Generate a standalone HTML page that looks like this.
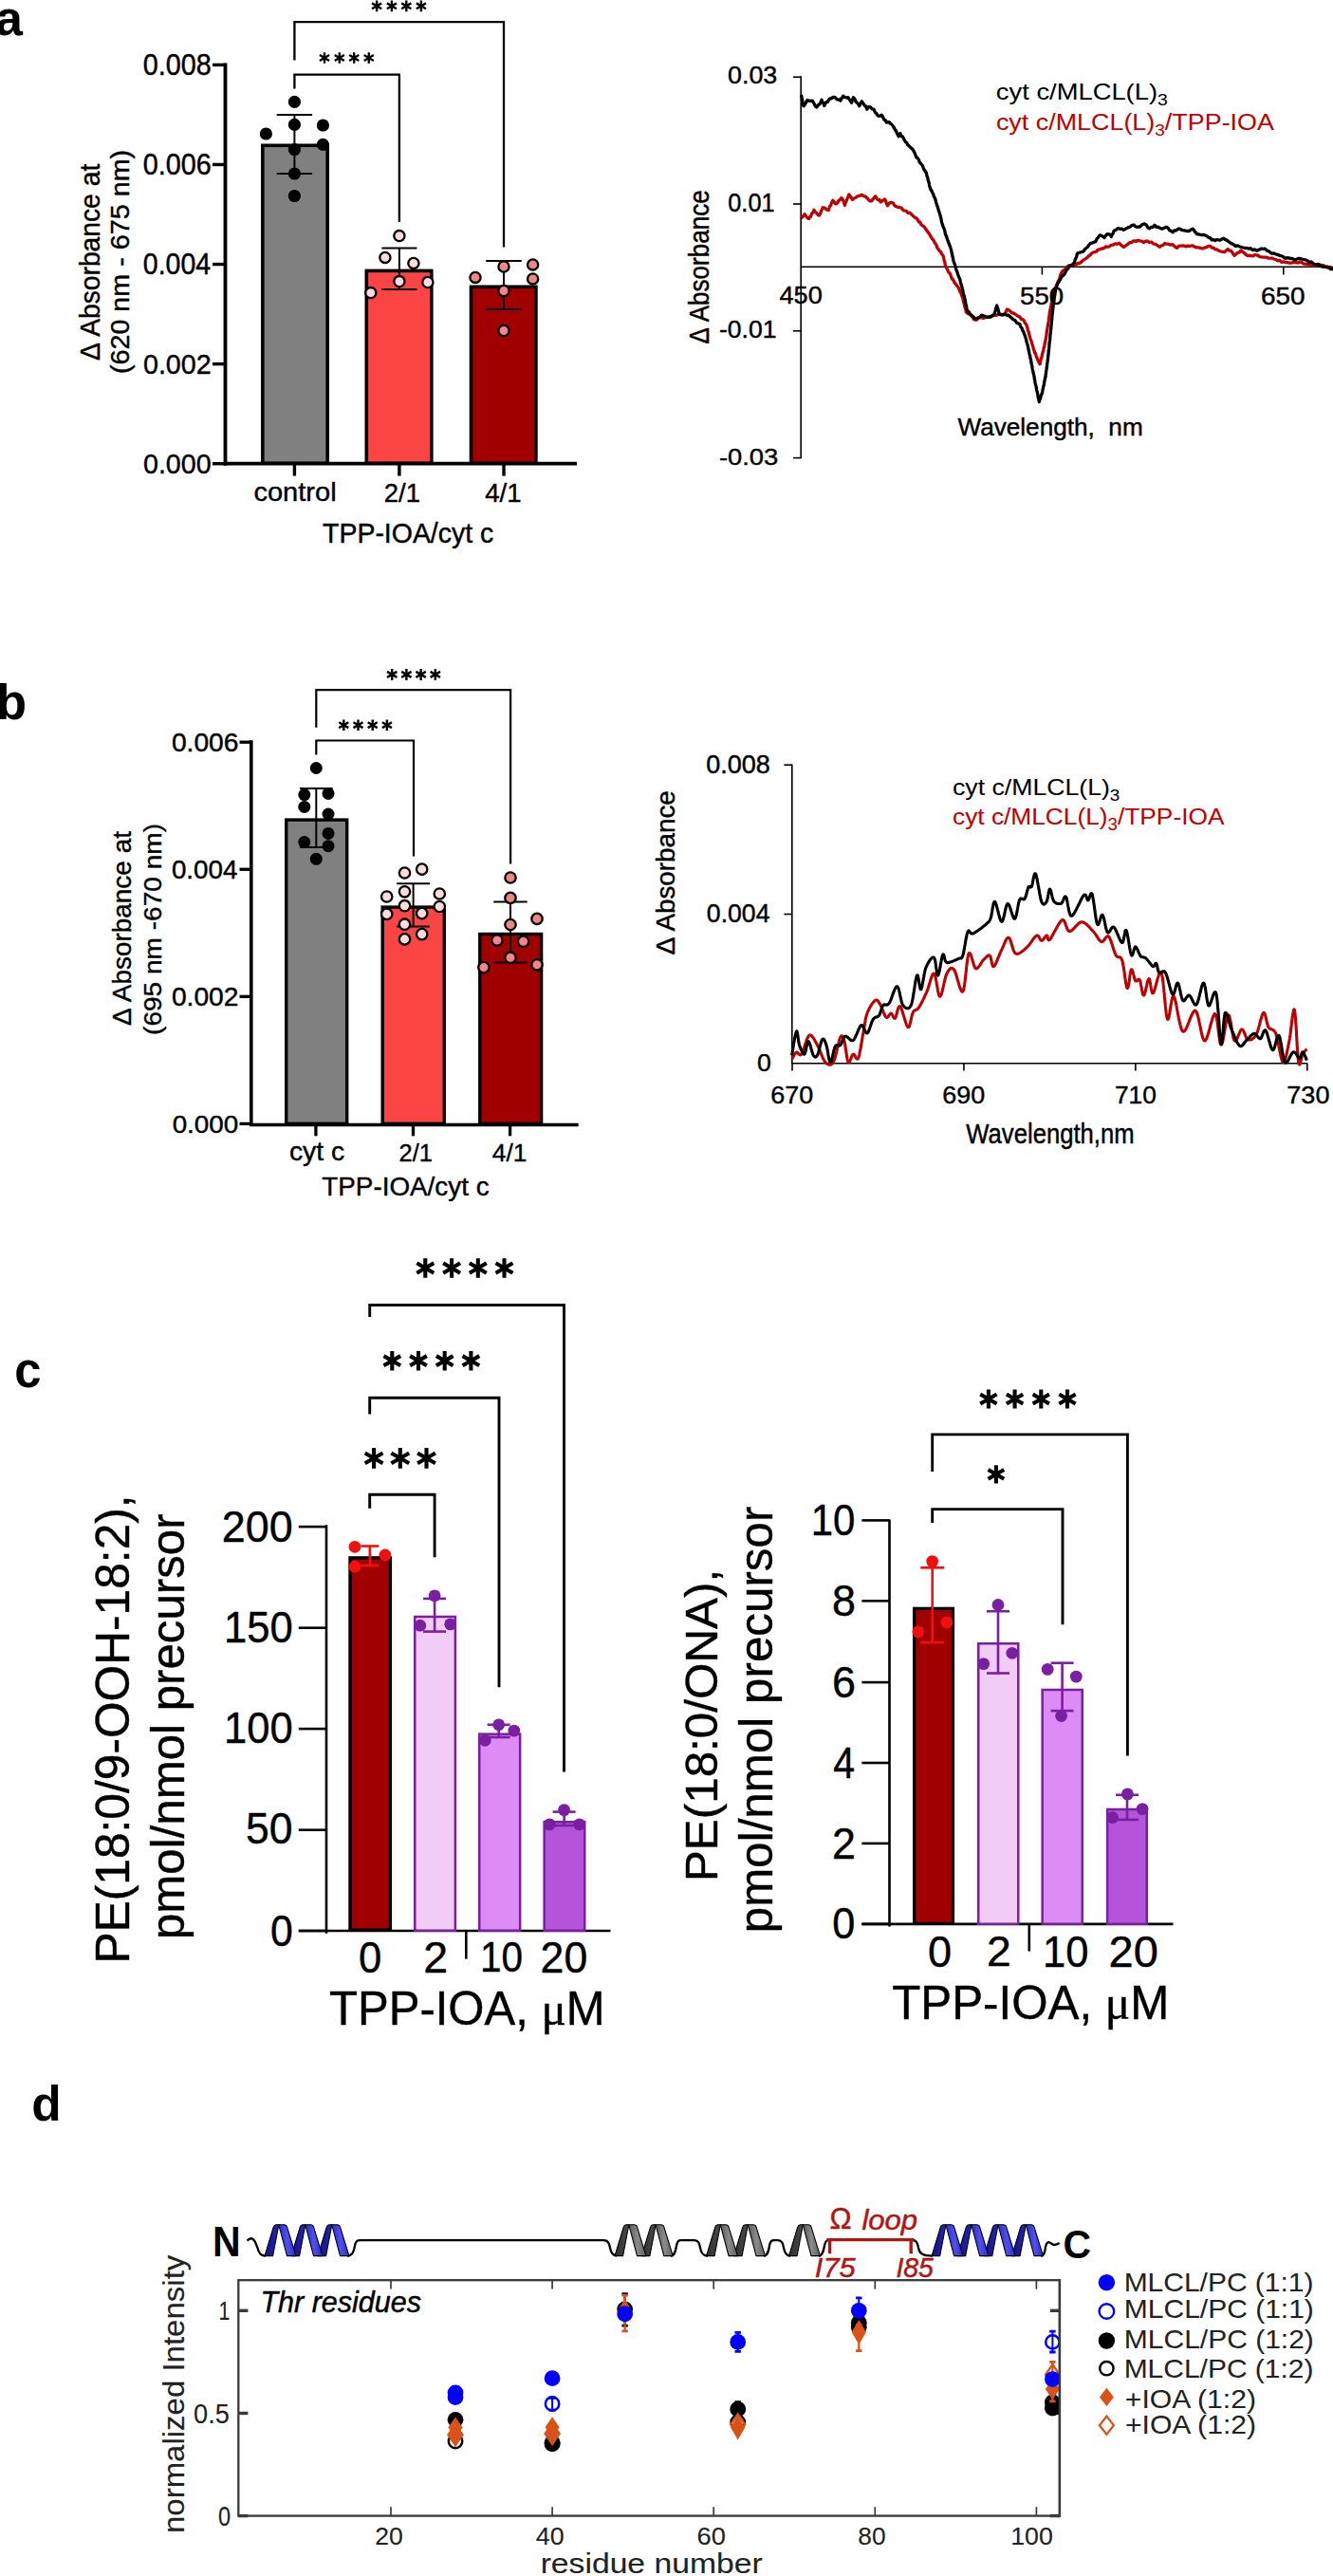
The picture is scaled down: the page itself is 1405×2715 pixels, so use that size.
<!DOCTYPE html><html><head><meta charset="utf-8"><style>html,body{margin:0;padding:0;background:#fff;}svg{display:block}text{font-family:"Liberation Sans",sans-serif}</style></head><body><svg width="1405" height="2715" viewBox="0 0 1405 2715"><rect width="100%" height="100%" fill="#fff"/>
<line x1="237.5" y1="66.5" x2="237.5" y2="490.5" stroke="#000" stroke-width="3.8" stroke-linecap="butt"/>
<line x1="224" y1="68.39999999999998" x2="237.5" y2="68.39999999999998" stroke="#000" stroke-width="3.4" stroke-linecap="butt"/>
<line x1="224" y1="173.47499999999997" x2="237.5" y2="173.47499999999997" stroke="#000" stroke-width="3.4" stroke-linecap="butt"/>
<line x1="224" y1="278.54999999999995" x2="237.5" y2="278.54999999999995" stroke="#000" stroke-width="3.4" stroke-linecap="butt"/>
<line x1="224" y1="383.625" x2="237.5" y2="383.625" stroke="#000" stroke-width="3.4" stroke-linecap="butt"/>
<line x1="224" y1="488.7" x2="237.5" y2="488.7" stroke="#000" stroke-width="3.4" stroke-linecap="butt"/>
<line x1="235.6" y1="488.7" x2="608" y2="488.7" stroke="#000" stroke-width="3.8" stroke-linecap="butt"/>
<line x1="310.4" y1="488.7" x2="310.4" y2="501.6" stroke="#000" stroke-width="3.4" stroke-linecap="butt"/>
<line x1="420.9" y1="488.7" x2="420.9" y2="501.6" stroke="#000" stroke-width="3.4" stroke-linecap="butt"/>
<line x1="531" y1="488.7" x2="531" y2="501.6" stroke="#000" stroke-width="3.4" stroke-linecap="butt"/>
<rect x="276.8" y="153.3" width="68.4" height="334.9" fill="#808080" stroke="#000" stroke-width="3.6"/>
<rect x="386.3" y="285.40000000000003" width="68.50000000000003" height="202.79999999999998" fill="#fb4444" stroke="#000" stroke-width="3.6"/>
<rect x="496.5" y="302.3" width="68.40000000000006" height="185.9" fill="#a10000" stroke="#000" stroke-width="3.6"/>
<line x1="310.4" y1="121" x2="310.4" y2="183" stroke="#000" stroke-width="2" stroke-linecap="butt"/>
<line x1="291.7" y1="121" x2="329.09999999999997" y2="121" stroke="#000" stroke-width="2" stroke-linecap="butt"/>
<line x1="291.7" y1="183" x2="329.09999999999997" y2="183" stroke="#000" stroke-width="2" stroke-linecap="butt"/>
<circle cx="310.4" cy="107.4" r="6.6" fill="#000" stroke="none" stroke-width="0"/>
<circle cx="310.4" cy="131.4" r="6.6" fill="#000" stroke="none" stroke-width="0"/>
<circle cx="280.4" cy="141" r="6.6" fill="#000" stroke="none" stroke-width="0"/>
<circle cx="340.4" cy="132" r="6.6" fill="#000" stroke="none" stroke-width="0"/>
<circle cx="340.4" cy="152.4" r="6.6" fill="#000" stroke="none" stroke-width="0"/>
<circle cx="310.4" cy="157.5" r="6.6" fill="#000" stroke="none" stroke-width="0"/>
<circle cx="310.4" cy="183" r="6.6" fill="#000" stroke="none" stroke-width="0"/>
<circle cx="310.4" cy="206.5" r="6.6" fill="#000" stroke="none" stroke-width="0"/>
<line x1="420.9" y1="261.5" x2="420.9" y2="305" stroke="#000" stroke-width="2" stroke-linecap="butt"/>
<line x1="402.4" y1="261.5" x2="439.4" y2="261.5" stroke="#000" stroke-width="2" stroke-linecap="butt"/>
<line x1="402.4" y1="305" x2="439.4" y2="305" stroke="#000" stroke-width="2" stroke-linecap="butt"/>
<circle cx="420.9" cy="248.6" r="5.6" fill="#fadcdc" stroke="#000" stroke-width="2.3"/>
<circle cx="405.9" cy="271.4" r="5.6" fill="#fadcdc" stroke="#000" stroke-width="2.3"/>
<circle cx="435.9" cy="277.4" r="5.6" fill="#fadcdc" stroke="#000" stroke-width="2.3"/>
<circle cx="420.9" cy="296.6" r="5.6" fill="#fadcdc" stroke="#000" stroke-width="2.3"/>
<circle cx="450.9" cy="297.5" r="5.6" fill="#fadcdc" stroke="#000" stroke-width="2.3"/>
<circle cx="390.8" cy="308.6" r="5.6" fill="#fadcdc" stroke="#000" stroke-width="2.3"/>
<line x1="531" y1="275" x2="531" y2="326" stroke="#000" stroke-width="2" stroke-linecap="butt"/>
<line x1="512.2" y1="275" x2="549.8" y2="275" stroke="#000" stroke-width="2" stroke-linecap="butt"/>
<line x1="512.2" y1="326" x2="549.8" y2="326" stroke="#000" stroke-width="2" stroke-linecap="butt"/>
<circle cx="531" cy="281" r="5.6" fill="#f28585" stroke="#000" stroke-width="2.3"/>
<circle cx="561.6" cy="278.9" r="5.6" fill="#f28585" stroke="#000" stroke-width="2.3"/>
<circle cx="501" cy="292.4" r="5.6" fill="#f28585" stroke="#000" stroke-width="2.3"/>
<circle cx="561.6" cy="293.9" r="5.6" fill="#f28585" stroke="#000" stroke-width="2.3"/>
<circle cx="531" cy="306.5" r="5.6" fill="#f28585" stroke="#000" stroke-width="2.3"/>
<circle cx="531" cy="348.5" r="5.6" fill="#f28585" stroke="#000" stroke-width="2.3"/>
<path d="M310.4,63.6 V23.1 H531 V260.5" stroke="#000" stroke-width="2.3" fill="none" />
<path d="M310.4,93.6 V78.6 H420.9 V234" stroke="#000" stroke-width="2.3" fill="none" />
<path d="M342,55.15 V66.85 M336.93375138786104,58.075 L347.06624861213896,63.925 M336.93375138786104,63.925 L347.06624861213896,58.075" stroke="#000" stroke-width="2.4" fill="none"/>
<path d="M357.8,55.15 V66.85 M352.73375138786105,58.075 L362.866248612139,63.925 M352.73375138786105,63.925 L362.866248612139,58.075" stroke="#000" stroke-width="2.4" fill="none"/>
<path d="M373.2,55.15 V66.85 M368.133751387861,58.075 L378.26624861213895,63.925 M368.133751387861,63.925 L378.26624861213895,58.075" stroke="#000" stroke-width="2.4" fill="none"/>
<path d="M388.8,55.15 V66.85 M383.73375138786105,58.075 L393.866248612139,63.925 M383.73375138786105,63.925 L393.866248612139,58.075" stroke="#000" stroke-width="2.4" fill="none"/>
<path d="M397.1,0.4500000000000002 V12.149999999999999 M392.03375138786106,3.3750000000000004 L402.166248612139,9.225 M392.03375138786106,9.225 L402.166248612139,3.3750000000000004" stroke="#000" stroke-width="2.4" fill="none"/>
<path d="M412.9,0.4500000000000002 V12.149999999999999 M407.833751387861,3.3750000000000004 L417.96624861213894,9.225 M407.833751387861,9.225 L417.96624861213894,3.3750000000000004" stroke="#000" stroke-width="2.4" fill="none"/>
<path d="M428.3,0.4500000000000002 V12.149999999999999 M423.23375138786105,3.3750000000000004 L433.366248612139,9.225 M423.23375138786105,9.225 L433.366248612139,3.3750000000000004" stroke="#000" stroke-width="2.4" fill="none"/>
<path d="M443.9,0.4500000000000002 V12.149999999999999 M438.833751387861,3.3750000000000004 L448.96624861213894,9.225 M438.833751387861,9.225 L448.96624861213894,3.3750000000000004" stroke="#000" stroke-width="2.4" fill="none"/>
<line x1="844.2" y1="80.2" x2="844.2" y2="483.2" stroke="#000" stroke-width="1.6" stroke-linecap="butt"/>
<line x1="836" y1="81.19999999999996" x2="844.2" y2="81.19999999999996" stroke="#000" stroke-width="1.6" stroke-linecap="butt"/>
<line x1="836" y1="214.99999999999997" x2="844.2" y2="214.99999999999997" stroke="#000" stroke-width="1.6" stroke-linecap="butt"/>
<line x1="836" y1="348.79999999999995" x2="844.2" y2="348.79999999999995" stroke="#000" stroke-width="1.6" stroke-linecap="butt"/>
<line x1="836" y1="482.6" x2="844.2" y2="482.6" stroke="#000" stroke-width="1.6" stroke-linecap="butt"/>
<line x1="844.2" y1="281.2" x2="1405" y2="281.2" stroke="#000" stroke-width="1.6" stroke-linecap="butt"/>
<line x1="1098.4" y1="281.2" x2="1098.4" y2="289.5" stroke="#000" stroke-width="1.6" stroke-linecap="butt"/>
<line x1="1352.8" y1="281.2" x2="1352.8" y2="289.5" stroke="#000" stroke-width="1.6" stroke-linecap="butt"/>
<path d="M844.5,230.4 L845.7,228.4 L846.9,227.5 L848.1,225.7 L849.6,227.9 L851.1,229.7 L852.6,230.5 L853.5,228.8 L854.4,228.6 L855.3,225.9 L856.2,224.2 L857.1,223.9 L858.0,221.3 L859.4,223.6 L860.7,224.5 L862.0,226.4 L863.4,227.1 L864.1,226.1 L864.8,224.8 L865.6,222.3 L866.3,220.9 L867.0,219.0 L869.1,218.8 L871.2,221.0 L873.3,221.6 L874.0,219.2 L874.8,217.0 L875.5,216.7 L876.3,214.2 L877.0,212.8 L877.8,211.3 L879.0,212.5 L880.2,214.4 L881.4,214.9 L882.8,213.8 L884.1,211.4 L885.4,210.5 L886.8,208.6 L887.7,209.1 L888.6,211.1 L889.5,213.2 L890.4,216.4 L891.1,213.8 L891.9,212.4 L892.6,210.0 L893.4,208.7 L894.1,206.7 L894.9,204.9 L896.1,206.9 L897.3,208.4 L898.5,210.4 L900.1,209.0 L901.6,208.5 L903.2,207.3 L904.8,206.6 L906.6,206.1 L908.4,205.3 L910.2,206.6 L912.0,206.9 L913.4,208.4 L914.7,209.4 L916.0,211.2 L917.4,211.9 L918.8,211.8 L920.1,210.1 L921.4,208.3 L922.8,206.7 L924.1,209.4 L925.5,210.8 L926.9,210.4 L928.2,212.9 L930.5,211.3 L932.7,210.0 L933.6,212.0 L934.5,214.7 L935.4,216.7 L937.6,213.8 L939.9,213.5 L941.4,214.0 L942.9,216.7 L944.4,217.5 L946.6,218.5 L948.9,218.7 L950.4,219.3 L951.9,221.7 L953.4,222.0 L955.2,222.4 L957.0,224.3 L958.8,224.2 L960.6,225.8 L962.5,227.6 L964.3,229.3 L965.6,229.8 L967.0,231.0 L968.3,233.8 L969.7,234.2 L971.0,236.7 L972.4,237.9 L973.8,238.7 L975.1,240.5 L976.4,242.3 L977.8,244.3 L978.9,245.8 L980.0,247.3 L981.0,249.1 L982.1,251.3 L983.2,252.1 L984.2,253.7 L985.1,256.0 L986.1,256.8 L987.1,258.7 L988.1,261.6 L989.0,262.5 L990.0,264.3 L991.3,265.1 L992.7,267.6 L994.0,269.7 L994.5,270.5 L994.9,273.4 L995.4,275.2 L995.8,276.0 L996.2,278.8 L996.7,280.3 L997.5,282.3 L998.3,283.4 L999.2,285.6 L1000.0,287.3 L1000.8,287.6 L1001.7,289.3 L1002.6,292.0 L1003.5,294.1 L1004.4,294.4 L1005.3,296.3 L1006.2,298.2 L1007.5,299.5 L1008.9,301.4 L1010.2,303.1 L1011.0,305.0 L1011.8,307.3 L1012.7,308.7 L1013.5,310.7 L1014.3,313.3 L1014.7,313.7 L1015.2,316.5 L1015.6,318.6 L1016.1,319.7 L1016.5,321.3 L1017.0,324.1 L1017.4,324.9 L1017.9,326.6 L1018.3,328.9 L1020.1,330.7 L1021.9,331.0 L1023.7,332.8 L1025.1,334.1 L1026.4,336.4 L1027.8,337.0 L1029.5,337.1 L1031.2,335.2 L1032.8,334.8 L1034.5,334.7 L1036.5,335.3 L1038.5,334.7 L1040.6,334.4 L1042.6,334.4 L1044.4,334.0 L1046.2,332.3 L1048.0,332.3 L1050.3,332.3 L1052.5,331.1 L1054.8,331.3 L1056.8,331.6 L1058.8,330.7 L1060.2,328.9 L1061.5,326.0 L1063.2,326.7 L1064.9,328.0 L1066.6,329.9 L1068.3,330.0 L1070.0,331.1 L1071.7,332.3 L1073.3,333.3 L1075.0,334.2 L1076.4,336.5 L1077.7,336.5 L1079.1,337.6 L1080.4,340.6 L1081.8,341.9 L1082.3,343.9 L1082.8,344.8 L1083.3,347.6 L1083.8,349.4 L1084.3,349.9 L1084.8,352.7 L1085.3,354.8 L1085.8,356.3 L1086.4,358.0 L1087.0,359.5 L1087.6,361.5 L1088.1,363.3 L1088.7,364.9 L1089.3,367.8 L1089.9,369.2 L1090.7,372.0 L1091.5,372.5 L1092.3,376.0 L1093.1,377.5 L1093.9,379.8 L1095.0,381.8 L1096.0,383.8 L1096.7,381.0 L1097.3,377.7 L1098.0,376.7 L1098.4,373.8 L1098.9,372.1 L1099.3,370.8 L1099.8,368.6 L1100.2,366.4 L1100.7,365.4 L1101.1,362.9 L1101.6,360.5 L1102.0,358.4 L1102.3,357.6 L1102.5,355.1 L1102.8,353.9 L1103.1,351.3 L1103.4,349.2 L1103.6,348.0 L1103.9,346.7 L1104.2,343.8 L1104.5,343.1 L1104.7,341.5 L1105.0,339.5 L1105.3,337.7 L1105.6,334.4 L1105.8,333.7 L1106.1,332.4 L1106.4,329.0 L1106.8,327.5 L1107.1,325.6 L1107.4,324.1 L1107.8,322.0 L1108.1,320.2 L1108.4,318.8 L1108.8,315.5 L1109.1,313.7 L1109.4,311.9 L1109.8,310.0 L1110.1,308.0 L1110.8,308.0 L1111.6,306.1 L1112.3,303.1 L1113.0,302.1 L1113.8,300.1 L1114.5,298.5 L1115.2,296.6 L1116.0,295.3 L1116.8,293.3 L1117.5,291.0 L1118.2,288.8 L1119.0,287.2 L1120.4,285.3 L1121.8,284.5 L1123.2,283.2 L1124.6,281.1 L1126.6,280.0 L1128.5,279.6 L1130.5,279.4 L1132.5,279.3 L1134.2,278.9 L1135.9,277.5 L1137.6,277.5 L1139.3,276.5 L1140.8,275.0 L1142.3,273.8 L1143.8,272.9 L1145.5,271.9 L1147.2,270.0 L1148.8,269.0 L1150.5,267.2 L1152.2,266.0 L1153.9,265.7 L1155.6,265.1 L1157.3,263.1 L1159.0,262.9 L1160.7,262.1 L1162.3,262.0 L1164.0,261.3 L1165.8,259.8 L1167.6,260.3 L1169.4,259.7 L1171.2,258.3 L1173.0,258.2 L1175.3,256.9 L1177.5,257.3 L1179.8,256.3 L1181.3,258.0 L1182.8,259.2 L1184.3,260.3 L1186.5,259.0 L1188.8,257.2 L1190.6,255.7 L1192.4,255.9 L1194.2,254.2 L1196.0,253.8 L1197.8,254.3 L1199.7,253.3 L1201.5,253.8 L1203.4,254.2 L1205.4,255.6 L1207.3,254.3 L1209.3,254.0 L1211.3,255.5 L1213.5,255.0 L1215.8,257.0 L1218.0,257.4 L1220.2,258.9 L1222.5,260.2 L1224.2,258.8 L1225.9,258.5 L1227.6,256.5 L1229.3,257.1 L1231.5,257.2 L1233.8,258.1 L1236.0,257.6 L1238.2,259.8 L1240.5,261.3 L1242.8,259.1 L1245.0,259.1 L1247.3,258.9 L1249.5,259.8 L1251.8,259.1 L1254.0,259.4 L1257.0,258.8 L1259.1,260.1 L1261.2,260.9 L1263.2,260.8 L1265.3,261.4 L1267.4,262.0 L1269.5,261.2 L1271.5,260.6 L1273.5,259.3 L1275.6,259.3 L1277.3,261.2 L1279.1,261.2 L1280.8,262.8 L1282.6,262.8 L1284.6,264.3 L1286.7,265.0 L1288.7,265.4 L1290.7,265.7 L1292.5,263.9 L1294.2,262.5 L1295.6,264.2 L1297.0,264.1 L1298.4,265.3 L1299.8,267.8 L1301.2,269.3 L1302.9,267.6 L1304.7,266.4 L1306.4,265.9 L1308.1,263.9 L1309.8,265.4 L1311.6,266.6 L1313.3,268.6 L1315.1,269.5 L1317.0,269.1 L1318.8,269.7 L1320.7,269.9 L1322.5,268.5 L1324.4,269.0 L1326.2,269.2 L1327.9,270.7 L1329.7,270.9 L1331.4,271.1 L1333.3,271.2 L1335.1,271.1 L1337.0,272.2 L1338.8,272.2 L1340.7,272.1 L1342.7,273.0 L1344.8,273.5 L1346.8,274.9 L1348.8,274.4 L1350.8,276.3 L1352.9,275.8 L1355.0,276.5 L1357.0,276.6 L1358.9,277.2 L1360.8,277.2 L1362.7,276.6 L1364.5,276.4 L1366.4,276.8 L1368.3,277.0 L1370.2,276.1 L1372.1,276.6 L1374.0,278.0 L1376.0,278.1 L1377.9,278.6 L1379.8,278.6 L1381.8,279.5 L1383.7,279.4 L1385.6,279.9 L1387.6,279.7 L1389.5,278.6 L1391.3,279.0 L1393.2,279.5 L1395.0,279.8 L1396.8,281.2 L1398.7,281.9 L1400.5,282.4 L1402.3,281.7 L1404.2,283.2 L1406.0,283.0" stroke="#c00000" stroke-width="3.3" fill="none" stroke-linejoin="round"/>
<path d="M844.5,99.9 L844.9,101.9 L845.3,103.9 L845.7,105.8 L846.0,107.9 L846.4,109.3 L846.8,111.5 L847.2,111.7 L848.1,110.5 L849.0,109.5 L849.9,107.1 L850.8,105.6 L853.5,106.4 L856.2,106.1 L857.3,107.7 L858.5,110.1 L859.6,112.1 L860.7,113.0 L861.8,111.8 L862.9,110.3 L863.9,109.8 L865.0,107.9 L866.1,105.2 L867.0,108.1 L867.9,108.7 L868.8,111.4 L870.0,109.0 L871.2,107.3 L872.4,107.4 L873.8,104.9 L875.1,103.7 L876.4,103.8 L877.8,102.4 L880.0,102.5 L882.3,104.8 L884.1,105.0 L885.9,106.1 L886.8,103.6 L887.7,103.3 L888.6,101.1 L890.4,102.4 L892.2,103.0 L894.0,102.7 L895.2,104.8 L896.4,106.4 L897.6,108.3 L898.2,106.0 L898.8,104.3 L899.4,102.8 L900.8,104.0 L902.1,107.4 L903.3,108.2 L904.5,109.5 L905.7,111.8 L907.0,109.1 L908.4,106.8 L909.8,108.9 L911.1,111.1 L912.4,111.7 L913.8,115.2 L915.6,112.5 L917.4,112.9 L919.2,114.9 L921.0,115.2 L922.4,118.4 L923.7,119.5 L925.0,121.6 L926.4,122.4 L929.1,121.2 L930.5,123.1 L931.8,126.2 L933.1,126.5 L934.5,129.2 L937.2,128.6 L938.6,130.4 L939.9,131.1 L941.2,132.9 L942.6,135.0 L943.5,137.1 L944.4,137.5 L945.3,140.3 L946.2,142.0 L947.1,143.7 L948.9,140.5 L950.0,143.7 L951.1,143.7 L952.3,145.7 L953.4,147.8 L954.5,149.8 L955.6,150.2 L956.6,152.7 L957.7,153.4 L958.8,154.5 L960.4,156.1 L962.0,157.4 L963.0,159.0 L964.0,161.0 L965.0,163.7 L966.0,166.1 L967.0,166.4 L968.1,167.8 L969.2,171.1 L970.2,171.9 L971.3,173.3 L972.4,174.6 L973.2,176.9 L974.0,178.9 L974.9,179.9 L975.7,181.4 L976.5,182.4 L977.0,185.8 L977.5,186.1 L978.0,188.8 L978.5,191.3 L979.0,191.8 L979.5,194.8 L980.0,197.0 L980.5,198.3 L981.3,200.3 L982.0,200.8 L982.8,203.2 L983.6,204.4 L984.4,207.4 L985.1,208.1 L985.9,210.1 L986.5,213.0 L987.1,214.7 L987.7,216.8 L988.2,217.8 L988.8,219.8 L989.4,222.2 L990.0,223.7 L990.5,225.2 L991.0,227.3 L991.5,228.7 L992.0,230.9 L992.5,233.9 L993.0,235.7 L993.5,237.0 L994.0,238.6 L994.6,240.0 L995.2,241.3 L995.8,243.4 L996.3,246.0 L996.9,247.9 L997.5,248.7 L998.1,251.2 L998.8,253.0 L999.4,254.7 L1000.1,256.4 L1000.8,258.4 L1001.4,259.5 L1002.1,261.9 L1002.5,263.1 L1003.0,265.5 L1003.5,268.1 L1003.9,270.0 L1004.3,271.3 L1004.8,274.5 L1005.3,275.8 L1005.9,277.6 L1006.4,278.5 L1007.0,281.3 L1007.5,282.7 L1008.2,285.2 L1008.9,286.6 L1009.5,289.1 L1010.2,290.6 L1010.9,292.6 L1011.6,293.6 L1012.1,295.9 L1012.5,297.8 L1013.0,299.7 L1013.5,300.6 L1014.0,303.2 L1014.4,305.0 L1014.9,306.4 L1015.3,308.8 L1015.7,310.7 L1016.2,311.8 L1016.6,313.7 L1017.0,314.9 L1017.5,318.1 L1017.9,320.4 L1018.4,321.6 L1018.8,324.0 L1019.2,326.1 L1019.7,328.1 L1021.0,328.4 L1022.4,330.9 L1023.7,331.8 L1025.1,333.4 L1026.4,334.3 L1027.8,336.0 L1029.5,335.6 L1031.2,334.7 L1032.8,334.2 L1034.5,332.2 L1036.5,332.8 L1038.5,333.6 L1040.6,334.3 L1042.6,333.9 L1044.4,333.8 L1046.2,332.8 L1048.0,330.9 L1048.5,329.8 L1049.1,327.4 L1049.6,325.3 L1050.2,323.5 L1050.7,322.0 L1051.2,323.6 L1051.8,325.5 L1052.3,327.1 L1052.9,329.8 L1053.4,331.5 L1055.4,331.9 L1057.5,331.9 L1059.5,331.2 L1061.5,332.4 L1063.2,332.2 L1064.9,334.2 L1066.6,335.4 L1068.3,336.9 L1070.0,337.8 L1071.7,340.4 L1073.3,340.9 L1075.0,341.7 L1075.9,344.5 L1076.8,345.4 L1077.7,348.0 L1078.6,349.4 L1079.5,351.6 L1080.4,354.1 L1080.9,355.7 L1081.3,356.8 L1081.8,359.3 L1082.2,360.8 L1082.7,362.1 L1083.1,363.5 L1083.6,366.2 L1084.0,367.9 L1084.5,370.4 L1084.9,372.3 L1085.2,373.5 L1085.6,374.8 L1086.0,377.7 L1086.3,377.9 L1086.7,379.9 L1087.0,382.6 L1087.4,384.5 L1087.8,385.5 L1088.1,388.2 L1088.5,390.5 L1088.9,391.4 L1089.2,393.4 L1089.6,394.8 L1090.0,396.8 L1090.4,399.9 L1090.7,400.7 L1091.1,403.5 L1091.5,405.3 L1091.9,406.6 L1092.2,407.8 L1092.6,411.0 L1093.0,412.0 L1093.4,413.8 L1093.8,415.6 L1094.1,418.7 L1094.5,419.7 L1094.9,421.3 L1095.3,423.6 L1095.9,421.1 L1096.4,420.2 L1097.0,418.1 L1097.6,416.0 L1098.1,415.1 L1098.7,413.4 L1099.1,410.1 L1099.4,409.3 L1099.8,407.0 L1100.2,406.4 L1100.5,404.3 L1100.9,401.5 L1101.3,399.8 L1101.6,397.8 L1102.0,397.5 L1102.2,394.4 L1102.5,393.1 L1102.7,391.0 L1103.0,389.5 L1103.2,387.6 L1103.5,386.0 L1103.7,383.0 L1104.0,382.3 L1104.2,379.6 L1104.5,378.2 L1104.7,376.0 L1104.9,374.1 L1105.1,372.8 L1105.2,370.8 L1105.4,368.8 L1105.6,367.7 L1105.8,365.7 L1106.0,362.9 L1106.1,361.5 L1106.3,360.0 L1106.5,359.0 L1106.7,357.2 L1106.9,354.8 L1107.0,352.0 L1107.2,351.6 L1107.4,349.2 L1107.6,347.6 L1107.8,346.1 L1107.9,344.1 L1108.1,342.1 L1108.3,341.0 L1108.5,338.3 L1108.7,336.5 L1108.8,335.5 L1109.0,332.6 L1109.2,330.9 L1109.4,330.1 L1109.6,326.9 L1109.7,326.5 L1109.9,324.5 L1110.1,322.2 L1110.4,320.1 L1110.6,319.1 L1110.9,317.5 L1111.2,314.3 L1111.4,313.1 L1111.7,311.4 L1112.0,309.5 L1112.3,307.4 L1112.5,305.2 L1112.8,304.2 L1113.6,302.8 L1114.4,299.6 L1115.2,298.1 L1116.0,297.4 L1116.8,295.5 L1117.9,293.8 L1119.0,291.1 L1120.2,290.9 L1121.3,289.9 L1122.4,288.3 L1123.5,286.1 L1124.7,283.3 L1125.8,283.1 L1126.9,280.3 L1128.8,279.6 L1130.6,278.6 L1132.5,276.7 L1133.2,273.7 L1133.9,272.1 L1134.5,271.3 L1135.2,268.0 L1135.9,266.9 L1138.2,266.2 L1140.4,265.5 L1141.9,265.0 L1143.4,262.7 L1144.9,261.5 L1146.4,260.3 L1147.9,258.0 L1149.4,256.3 L1151.3,256.1 L1153.1,255.3 L1155.0,254.5 L1156.1,251.6 L1157.2,250.6 L1158.4,248.8 L1159.5,247.8 L1161.8,248.7 L1164.0,250.6 L1165.5,248.4 L1167.0,246.7 L1168.5,246.8 L1169.9,247.2 L1171.3,249.5 L1172.2,247.2 L1173.2,245.9 L1174.1,243.2 L1176.3,242.2 L1178.6,240.4 L1180.5,241.3 L1182.4,241.1 L1184.3,242.4 L1186.5,241.2 L1188.8,239.8 L1191.0,239.2 L1192.2,238.1 L1193.3,237.3 L1195.0,237.0 L1196.7,238.7 L1198.3,239.3 L1200.0,239.0 L1201.7,239.0 L1203.4,237.0 L1205.1,236.1 L1206.8,236.0 L1208.3,237.0 L1209.8,239.8 L1211.3,240.8 L1213.2,239.5 L1215.0,239.5 L1216.9,237.2 L1218.8,239.3 L1220.6,239.1 L1222.5,240.2 L1224.8,241.2 L1227.0,240.4 L1229.3,239.2 L1231.0,240.1 L1232.7,242.8 L1234.3,243.4 L1236.0,244.8 L1237.7,242.9 L1239.4,243.0 L1241.1,241.8 L1242.8,240.9 L1244.6,241.7 L1246.4,242.7 L1248.2,242.8 L1250.0,243.4 L1251.8,243.5 L1253.5,243.6 L1255.3,242.1 L1257.0,241.2 L1258.2,242.0 L1259.3,244.2 L1260.4,245.1 L1261.6,246.7 L1263.9,247.0 L1266.3,247.7 L1268.6,247.5 L1270.3,248.0 L1272.1,248.9 L1273.8,250.2 L1275.6,250.9 L1277.3,252.9 L1279.1,252.6 L1280.8,253.5 L1282.6,252.6 L1284.3,252.9 L1286.0,253.1 L1287.8,252.0 L1289.5,251.1 L1291.2,252.4 L1293.0,253.1 L1294.8,254.5 L1296.5,255.8 L1298.4,256.9 L1300.4,257.7 L1302.3,259.4 L1304.3,258.8 L1306.4,259.7 L1308.5,260.5 L1310.5,261.0 L1312.4,261.4 L1314.4,261.5 L1316.3,262.2 L1318.3,261.7 L1320.3,263.6 L1322.4,262.9 L1324.4,264.2 L1326.2,263.3 L1327.9,262.8 L1329.7,262.0 L1331.4,262.4 L1333.3,262.1 L1335.3,264.2 L1337.2,264.7 L1339.1,266.2 L1340.9,267.2 L1342.8,267.0 L1344.6,267.8 L1346.5,268.3 L1348.5,269.3 L1350.6,269.6 L1352.7,270.7 L1354.7,272.4 L1356.6,271.6 L1358.4,271.9 L1360.3,272.5 L1362.1,272.5 L1364.0,273.7 L1366.1,273.6 L1368.2,272.5 L1370.2,272.5 L1372.3,273.1 L1374.4,273.5 L1376.3,274.0 L1378.1,274.7 L1380.0,276.7 L1381.8,276.0 L1383.7,277.1 L1385.6,278.9 L1387.6,278.7 L1389.5,278.5 L1391.4,279.9 L1393.4,281.2 L1395.3,280.8 L1397.1,281.1 L1398.9,281.1 L1400.7,281.6 L1402.4,283.7 L1404.2,283.5 L1406.0,284.0" stroke="#000" stroke-width="3.3" fill="none" stroke-linejoin="round"/>
<line x1="264.8" y1="780.3" x2="264.8" y2="1186.3" stroke="#000" stroke-width="3.6" stroke-linecap="butt"/>
<line x1="252.5" y1="782.19" x2="264.8" y2="782.19" stroke="#000" stroke-width="3.3" stroke-linecap="butt"/>
<line x1="252.5" y1="916.2600000000001" x2="264.8" y2="916.2600000000001" stroke="#000" stroke-width="3.3" stroke-linecap="butt"/>
<line x1="252.5" y1="1050.3300000000002" x2="264.8" y2="1050.3300000000002" stroke="#000" stroke-width="3.3" stroke-linecap="butt"/>
<line x1="252.5" y1="1184.4" x2="264.8" y2="1184.4" stroke="#000" stroke-width="3.3" stroke-linecap="butt"/>
<line x1="263" y1="1185.5" x2="609.7" y2="1185.5" stroke="#000" stroke-width="3.6" stroke-linecap="butt"/>
<line x1="332.9" y1="1185.5" x2="332.9" y2="1197.3" stroke="#000" stroke-width="3.3" stroke-linecap="butt"/>
<line x1="435.5" y1="1185.5" x2="435.5" y2="1197.3" stroke="#000" stroke-width="3.3" stroke-linecap="butt"/>
<line x1="537.6" y1="1185.5" x2="537.6" y2="1197.3" stroke="#000" stroke-width="3.3" stroke-linecap="butt"/>
<rect x="301.7" y="864.1" width="63.99999999999998" height="320.20000000000005" fill="#808080" stroke="#000" stroke-width="3.4"/>
<rect x="403.2" y="956.1" width="65.1" height="228.20000000000002" fill="#fb4444" stroke="#000" stroke-width="3.4"/>
<rect x="505.8" y="984.5" width="64.79999999999993" height="199.80000000000004" fill="#a10000" stroke="#000" stroke-width="3.4"/>
<line x1="333.3" y1="830.9" x2="333.3" y2="892.9" stroke="#000" stroke-width="2" stroke-linecap="butt"/>
<line x1="315.90000000000003" y1="830.9" x2="350.7" y2="830.9" stroke="#000" stroke-width="2" stroke-linecap="butt"/>
<line x1="315.90000000000003" y1="892.9" x2="350.7" y2="892.9" stroke="#000" stroke-width="2" stroke-linecap="butt"/>
<circle cx="333.3" cy="809.5" r="6.5" fill="#000" stroke="none" stroke-width="0"/>
<circle cx="320.8" cy="837.6" r="6.5" fill="#000" stroke="none" stroke-width="0"/>
<circle cx="346" cy="836.4" r="6.5" fill="#000" stroke="none" stroke-width="0"/>
<circle cx="320.8" cy="850.4" r="6.5" fill="#000" stroke="none" stroke-width="0"/>
<circle cx="346" cy="858" r="6.5" fill="#000" stroke="none" stroke-width="0"/>
<circle cx="346" cy="878.4" r="6.5" fill="#000" stroke="none" stroke-width="0"/>
<circle cx="320.8" cy="887.6" r="6.5" fill="#000" stroke="none" stroke-width="0"/>
<circle cx="346" cy="891.7" r="6.5" fill="#000" stroke="none" stroke-width="0"/>
<circle cx="333.3" cy="905.3" r="6.5" fill="#000" stroke="none" stroke-width="0"/>
<line x1="435.6" y1="931.3" x2="435.6" y2="976.6" stroke="#000" stroke-width="2" stroke-linecap="butt"/>
<line x1="418.20000000000005" y1="931.3" x2="453.0" y2="931.3" stroke="#000" stroke-width="2" stroke-linecap="butt"/>
<line x1="418.20000000000005" y1="976.6" x2="453.0" y2="976.6" stroke="#000" stroke-width="2" stroke-linecap="butt"/>
<circle cx="444.7" cy="916.1" r="5.7" fill="#fadcdc" stroke="#000" stroke-width="2.3"/>
<circle cx="426.5" cy="920" r="5.7" fill="#fadcdc" stroke="#000" stroke-width="2.3"/>
<circle cx="407.7" cy="945" r="5.7" fill="#fadcdc" stroke="#000" stroke-width="2.3"/>
<circle cx="426.5" cy="939.8" r="5.7" fill="#fadcdc" stroke="#000" stroke-width="2.3"/>
<circle cx="463.3" cy="942" r="5.7" fill="#fadcdc" stroke="#000" stroke-width="2.3"/>
<circle cx="426.5" cy="954.7" r="5.7" fill="#fadcdc" stroke="#000" stroke-width="2.3"/>
<circle cx="463.3" cy="955.5" r="5.7" fill="#fadcdc" stroke="#000" stroke-width="2.3"/>
<circle cx="407.7" cy="963.4" r="5.7" fill="#fadcdc" stroke="#000" stroke-width="2.3"/>
<circle cx="444.7" cy="962.6" r="5.7" fill="#fadcdc" stroke="#000" stroke-width="2.3"/>
<circle cx="426.5" cy="974.2" r="5.7" fill="#fadcdc" stroke="#000" stroke-width="2.3"/>
<circle cx="444.7" cy="984.6" r="5.7" fill="#fadcdc" stroke="#000" stroke-width="2.3"/>
<circle cx="426.5" cy="989.9" r="5.7" fill="#fadcdc" stroke="#000" stroke-width="2.3"/>
<line x1="538" y1="950.6" x2="538" y2="1014.6" stroke="#000" stroke-width="2" stroke-linecap="butt"/>
<line x1="520.3" y1="950.6" x2="555.7" y2="950.6" stroke="#000" stroke-width="2" stroke-linecap="butt"/>
<line x1="520.3" y1="1014.6" x2="555.7" y2="1014.6" stroke="#000" stroke-width="2" stroke-linecap="butt"/>
<circle cx="538" cy="925" r="5.7" fill="#f28585" stroke="#000" stroke-width="2.3"/>
<circle cx="538" cy="946.4" r="5.7" fill="#f28585" stroke="#000" stroke-width="2.3"/>
<circle cx="566" cy="968.4" r="5.7" fill="#f28585" stroke="#000" stroke-width="2.3"/>
<circle cx="538" cy="974.5" r="5.7" fill="#f28585" stroke="#000" stroke-width="2.3"/>
<circle cx="523.9" cy="991" r="5.7" fill="#f28585" stroke="#000" stroke-width="2.3"/>
<circle cx="551.6" cy="992.3" r="5.7" fill="#f28585" stroke="#000" stroke-width="2.3"/>
<circle cx="538" cy="1009.2" r="5.7" fill="#f28585" stroke="#000" stroke-width="2.3"/>
<circle cx="509.9" cy="1019.6" r="5.7" fill="#f28585" stroke="#000" stroke-width="2.3"/>
<circle cx="566" cy="1016.8" r="5.7" fill="#f28585" stroke="#000" stroke-width="2.3"/>
<path d="M333.3,766.8 V727.2 H538.1 V910.4" stroke="#000" stroke-width="2.2" fill="none" />
<path d="M333.3,795.6 V780.5 H436 V902.5" stroke="#000" stroke-width="2.2" fill="none" />
<path d="M362.3,758.4000000000001 V770.0 M357.27705265805025,761.3000000000001 L367.32294734194977,767.1 M357.27705265805025,767.1 L367.32294734194977,761.3000000000001" stroke="#000" stroke-width="2.4" fill="none"/>
<path d="M377.5,758.4000000000001 V770.0 M372.47705265805024,761.3000000000001 L382.52294734194976,767.1 M372.47705265805024,767.1 L382.52294734194976,761.3000000000001" stroke="#000" stroke-width="2.4" fill="none"/>
<path d="M392.7,758.4000000000001 V770.0 M387.67705265805023,761.3000000000001 L397.72294734194975,767.1 M387.67705265805023,767.1 L397.72294734194975,761.3000000000001" stroke="#000" stroke-width="2.4" fill="none"/>
<path d="M407.9,758.4000000000001 V770.0 M402.8770526580502,761.3000000000001 L412.92294734194974,767.1 M402.8770526580502,767.1 L412.92294734194974,761.3000000000001" stroke="#000" stroke-width="2.4" fill="none"/>
<path d="M413.2,704.9 V716.9 M408.00384757729336,707.9 L418.3961524227066,713.9 M408.00384757729336,713.9 L418.3961524227066,707.9" stroke="#000" stroke-width="2.4" fill="none"/>
<path d="M428.4,704.9 V716.9 M423.20384757729335,707.9 L433.5961524227066,713.9 M423.20384757729335,713.9 L433.5961524227066,707.9" stroke="#000" stroke-width="2.4" fill="none"/>
<path d="M443.6,704.9 V716.9 M438.4038475772934,707.9 L448.79615242270665,713.9 M438.4038475772934,713.9 L448.79615242270665,707.9" stroke="#000" stroke-width="2.4" fill="none"/>
<path d="M458.8,704.9 V716.9 M453.6038475772934,707.9 L463.99615242270664,713.9 M453.6038475772934,713.9 L463.99615242270664,707.9" stroke="#000" stroke-width="2.4" fill="none"/>
<line x1="834.8" y1="805.6" x2="834.8" y2="1121.6" stroke="#000" stroke-width="1.6" stroke-linecap="butt"/>
<line x1="826.4" y1="806.1999999999999" x2="834.8" y2="806.1999999999999" stroke="#000" stroke-width="1.6" stroke-linecap="butt"/>
<line x1="826.4" y1="963.5" x2="834.8" y2="963.5" stroke="#000" stroke-width="1.6" stroke-linecap="butt"/>
<line x1="834.8" y1="1120.8" x2="1378.2" y2="1120.8" stroke="#000" stroke-width="1.6" stroke-linecap="butt"/>
<line x1="835.0" y1="1120.8" x2="835.0" y2="1128.5" stroke="#000" stroke-width="1.6" stroke-linecap="butt"/>
<line x1="1015.94" y1="1120.8" x2="1015.94" y2="1128.5" stroke="#000" stroke-width="1.6" stroke-linecap="butt"/>
<line x1="1196.88" y1="1120.8" x2="1196.88" y2="1128.5" stroke="#000" stroke-width="1.6" stroke-linecap="butt"/>
<line x1="1377.8200000000002" y1="1120.8" x2="1377.8200000000002" y2="1128.5" stroke="#000" stroke-width="1.6" stroke-linecap="butt"/>
<path d="M834.6,1116.4 L835.0,1115.8 L835.5,1114.8 L836.1,1113.7 L836.7,1112.6 L837.4,1111.4 L838.1,1110.4 L838.8,1109.5 L839.5,1109.0 L840.5,1109.2 L841.4,1110.2 L842.4,1111.4 L843.5,1111.9 L844.7,1111.1 L845.0,1110.6 L845.4,1109.9 L845.7,1109.1 L846.1,1108.2 L846.5,1107.2 L846.9,1106.1 L847.3,1104.9 L847.7,1103.7 L848.1,1102.5 L848.5,1101.2 L848.9,1099.9 L849.3,1098.7 L849.8,1097.5 L850.2,1096.3 L850.6,1095.2 L851.0,1094.2 L851.5,1093.3 L851.9,1092.5 L852.3,1091.9 L852.7,1091.4 L853.1,1091.1 L853.7,1090.9 L854.4,1091.0 L855.0,1091.3 L855.7,1091.8 L856.3,1092.6 L857.0,1093.5 L857.6,1094.5 L858.3,1095.6 L858.9,1096.8 L859.6,1098.0 L860.2,1099.3 L860.9,1100.5 L861.5,1101.6 L861.9,1102.4 L862.4,1103.3 L862.8,1104.2 L863.3,1105.2 L863.7,1106.2 L864.2,1107.3 L864.6,1108.4 L865.0,1109.5 L865.5,1110.7 L865.9,1111.8 L866.4,1112.8 L866.8,1113.9 L867.2,1114.9 L867.7,1115.9 L868.1,1116.8 L868.6,1117.6 L869.0,1118.3 L869.5,1119.0 L869.9,1119.5 L871.0,1120.5 L872.0,1121.4 L873.1,1122.0 L874.2,1122.3 L875.2,1122.2 L876.3,1121.8 L877.3,1120.9 L878.3,1119.5 L878.6,1119.0 L878.9,1118.3 L879.2,1117.6 L879.5,1116.7 L879.8,1115.8 L880.1,1114.9 L880.4,1113.8 L880.7,1112.7 L881.0,1111.6 L881.3,1110.4 L881.5,1109.2 L881.8,1108.0 L882.1,1106.8 L882.4,1105.5 L882.7,1104.3 L883.0,1103.1 L883.2,1101.9 L883.5,1100.8 L883.8,1099.6 L884.0,1098.6 L884.3,1097.6 L884.5,1096.6 L884.8,1095.8 L885.0,1095.0 L885.3,1094.3 L885.5,1093.8 L885.7,1093.3 L886.7,1091.9 L887.6,1091.9 L888.4,1093.1 L889.1,1095.0 L889.9,1097.5 L890.1,1098.2 L890.3,1098.9 L890.5,1099.8 L890.7,1100.8 L890.8,1101.9 L891.0,1103.0 L891.2,1104.2 L891.4,1105.5 L891.6,1106.7 L891.8,1108.0 L891.9,1109.3 L892.1,1110.6 L892.3,1111.8 L892.5,1113.0 L892.7,1114.1 L892.9,1115.2 L893.1,1116.2 L893.3,1117.1 L893.5,1117.9 L893.7,1118.6 L893.9,1119.1 L894.1,1119.5 L894.6,1119.8 L895.2,1119.4 L895.8,1118.5 L896.3,1117.2 L896.9,1115.6 L897.5,1114.1 L898.1,1112.7 L898.7,1111.6 L899.3,1111.1 L900.2,1111.4 L901.1,1112.7 L901.9,1114.3 L902.8,1115.7 L903.7,1116.2 L904.6,1115.3 L904.8,1114.8 L905.0,1114.3 L905.2,1113.6 L905.4,1112.9 L905.6,1112.1 L905.8,1111.2 L906.0,1110.3 L906.2,1109.3 L906.4,1108.2 L906.7,1107.2 L906.9,1106.0 L907.1,1104.9 L907.3,1103.7 L907.5,1102.5 L907.7,1101.3 L907.9,1100.1 L908.1,1098.9 L908.3,1097.7 L908.5,1096.5 L908.7,1095.3 L908.9,1094.2 L909.1,1093.1 L909.2,1092.0 L909.4,1090.9 L909.6,1089.9 L909.8,1089.0 L910.0,1087.9 L910.2,1086.8 L910.4,1085.7 L910.6,1084.6 L910.8,1083.5 L911.0,1082.4 L911.1,1081.3 L911.3,1080.3 L911.4,1079.2 L911.6,1078.2 L911.8,1077.2 L912.0,1076.2 L912.1,1075.2 L912.3,1074.3 L912.5,1073.3 L912.7,1072.4 L913.0,1071.5 L913.2,1070.6 L913.4,1069.7 L913.7,1068.8 L914.0,1068.0 L914.4,1066.8 L914.9,1065.7 L915.5,1064.5 L916.0,1063.4 L916.6,1062.3 L917.2,1061.2 L917.8,1060.1 L918.4,1059.1 L919.1,1058.2 L919.7,1057.3 L920.3,1056.6 L920.9,1055.9 L921.4,1055.3 L921.9,1054.8 L922.4,1054.4 L923.5,1054.0 L924.4,1054.1 L925.2,1054.8 L926.0,1055.8 L926.8,1057.2 L927.7,1058.6 L928.1,1059.3 L928.6,1060.2 L929.0,1061.2 L929.5,1062.3 L929.9,1063.5 L930.4,1064.7 L930.9,1065.9 L931.3,1067.1 L931.8,1068.3 L932.3,1069.3 L932.7,1070.3 L933.1,1071.1 L933.6,1071.8 L934.0,1072.2 L934.9,1072.4 L935.9,1071.8 L936.7,1070.6 L937.6,1069.4 L938.4,1068.4 L939.2,1068.0 L939.9,1068.5 L940.6,1069.7 L941.3,1071.2 L942.0,1072.5 L942.6,1073.3 L943.4,1073.3 L943.8,1072.8 L944.1,1072.0 L944.5,1070.9 L944.8,1069.6 L945.2,1068.2 L945.6,1066.7 L946.0,1065.2 L946.4,1063.8 L946.8,1062.6 L947.2,1061.6 L947.7,1060.9 L948.2,1060.6 L948.7,1060.7 L949.0,1061.0 L949.3,1061.5 L949.7,1062.1 L950.0,1062.9 L950.4,1063.9 L950.8,1064.9 L951.1,1066.1 L951.5,1067.3 L951.9,1068.6 L952.3,1069.9 L952.7,1071.2 L953.1,1072.6 L953.5,1073.9 L953.9,1075.2 L954.3,1076.5 L954.7,1077.7 L955.1,1078.8 L955.4,1079.8 L955.8,1080.7 L956.1,1081.4 L956.5,1082.0 L956.8,1082.5 L957.1,1082.7 L957.5,1082.7 L957.9,1082.5 L958.3,1081.9 L958.6,1081.2 L958.9,1080.2 L959.2,1079.1 L959.5,1077.9 L959.8,1076.6 L960.1,1075.2 L960.4,1073.8 L960.7,1072.4 L961.0,1071.1 L961.3,1069.8 L961.6,1068.7 L962.0,1067.8 L962.3,1067.0 L963.0,1065.9 L963.7,1065.2 L964.5,1064.8 L965.2,1064.4 L966.0,1064.1 L966.9,1063.6 L967.7,1062.8 L968.6,1061.7 L969.0,1061.1 L969.4,1060.3 L969.9,1059.6 L970.3,1058.8 L970.8,1057.9 L971.3,1057.0 L971.8,1056.1 L972.2,1055.1 L972.7,1054.2 L973.2,1053.1 L973.7,1052.1 L974.2,1051.1 L974.7,1050.0 L975.2,1049.0 L975.6,1048.0 L976.1,1046.9 L976.6,1045.9 L977.0,1044.9 L977.4,1044.0 L977.8,1042.9 L978.2,1041.8 L978.6,1040.6 L978.9,1039.3 L979.3,1038.0 L979.7,1036.7 L980.1,1035.4 L980.5,1034.1 L980.8,1032.9 L981.2,1031.7 L981.6,1030.6 L981.9,1029.5 L982.3,1028.6 L982.7,1027.7 L983.0,1027.1 L983.4,1026.5 L983.7,1026.2 L984.1,1026.0 L984.4,1026.0 L984.7,1026.2 L984.9,1026.6 L985.2,1027.2 L985.5,1028.0 L985.7,1028.9 L986.0,1029.9 L986.2,1031.0 L986.5,1032.2 L986.7,1033.5 L987.0,1034.9 L987.2,1036.3 L987.4,1037.7 L987.7,1039.1 L987.9,1040.6 L988.2,1041.9 L988.4,1043.3 L988.6,1044.5 L988.9,1045.7 L989.1,1046.8 L989.4,1047.8 L989.6,1048.6 L989.9,1049.3 L990.2,1049.8 L990.4,1050.1 L990.7,1050.2 L991.0,1050.1 L991.2,1049.8 L991.5,1049.4 L991.8,1048.8 L992.1,1048.1 L992.4,1047.3 L992.7,1046.4 L993.0,1045.3 L993.3,1044.2 L993.5,1043.0 L993.8,1041.8 L994.1,1040.5 L994.4,1039.2 L994.7,1037.9 L995.0,1036.6 L995.3,1035.2 L995.6,1033.9 L995.9,1032.7 L996.2,1031.5 L996.5,1030.3 L996.8,1029.3 L997.1,1028.3 L997.4,1027.4 L997.7,1026.6 L998.0,1026.0 L998.9,1024.3 L999.8,1022.9 L1000.7,1021.8 L1001.6,1020.9 L1002.5,1020.5 L1003.4,1020.5 L1004.4,1020.9 L1005.4,1021.8 L1005.8,1022.3 L1006.1,1023.0 L1006.5,1023.8 L1006.9,1024.8 L1007.3,1025.9 L1007.7,1027.1 L1008.1,1028.4 L1008.5,1029.8 L1008.9,1031.2 L1009.3,1032.7 L1009.8,1034.1 L1010.2,1035.6 L1010.6,1037.0 L1011.0,1038.4 L1011.4,1039.7 L1011.8,1040.9 L1012.2,1041.9 L1012.6,1042.9 L1013.0,1043.7 L1013.4,1044.4 L1013.8,1044.8 L1014.1,1045.1 L1014.5,1045.1 L1014.8,1044.9 L1015.0,1044.6 L1015.2,1044.3 L1015.4,1043.8 L1015.6,1043.2 L1015.7,1042.5 L1015.9,1041.8 L1016.1,1041.0 L1016.2,1040.1 L1016.4,1039.1 L1016.6,1038.0 L1016.7,1037.0 L1016.9,1035.8 L1017.0,1034.6 L1017.2,1033.4 L1017.3,1032.1 L1017.5,1030.8 L1017.6,1029.5 L1017.8,1028.1 L1017.9,1026.8 L1018.1,1025.4 L1018.2,1024.0 L1018.4,1022.7 L1018.5,1021.3 L1018.6,1020.0 L1018.8,1018.7 L1018.9,1017.4 L1019.1,1016.1 L1019.2,1014.9 L1019.4,1013.7 L1019.5,1012.5 L1019.7,1011.4 L1019.8,1010.4 L1020.0,1009.5 L1020.1,1008.6 L1020.3,1007.8 L1020.4,1007.0 L1020.6,1006.4 L1020.8,1005.8 L1020.9,1005.4 L1021.1,1005.0 L1021.5,1004.5 L1021.9,1004.5 L1022.3,1004.8 L1022.7,1005.4 L1023.2,1006.3 L1023.6,1007.5 L1024.0,1008.8 L1024.5,1010.2 L1024.9,1011.8 L1025.3,1013.3 L1025.8,1014.8 L1026.2,1016.3 L1026.7,1017.6 L1027.1,1018.8 L1027.6,1019.8 L1028.0,1020.4 L1028.5,1020.8 L1029.2,1020.9 L1029.9,1020.6 L1030.6,1020.1 L1031.3,1019.3 L1032.0,1018.4 L1032.8,1017.3 L1033.5,1016.2 L1034.2,1015.0 L1034.9,1013.9 L1035.6,1012.9 L1036.3,1012.0 L1036.9,1011.3 L1037.9,1010.3 L1038.9,1009.3 L1039.9,1008.3 L1040.8,1007.5 L1041.6,1007.0 L1042.4,1006.8 L1043.2,1007.1 L1043.6,1007.6 L1044.0,1008.5 L1044.3,1009.6 L1044.6,1010.9 L1044.9,1012.3 L1045.2,1013.8 L1045.5,1015.2 L1045.8,1016.4 L1046.1,1017.5 L1046.5,1018.3 L1046.9,1018.7 L1047.4,1018.7 L1047.7,1018.4 L1048.1,1018.0 L1048.5,1017.5 L1048.9,1016.8 L1049.3,1016.0 L1049.8,1015.0 L1050.2,1014.0 L1050.7,1013.0 L1051.2,1011.8 L1051.6,1010.7 L1052.1,1009.5 L1052.6,1008.3 L1053.1,1007.1 L1053.6,1005.9 L1054.0,1004.7 L1054.5,1003.6 L1054.9,1002.6 L1055.4,1001.7 L1055.8,1000.8 L1056.4,999.7 L1056.9,998.5 L1057.5,997.2 L1058.0,996.0 L1058.5,994.7 L1059.0,993.5 L1059.6,992.3 L1060.1,991.3 L1060.6,990.3 L1061.1,989.5 L1061.6,988.9 L1062.2,988.4 L1062.7,988.2 L1063.2,988.2 L1063.6,988.4 L1064.0,988.9 L1064.4,989.6 L1064.7,990.4 L1065.1,991.4 L1065.5,992.5 L1065.8,993.7 L1066.2,994.9 L1066.6,996.2 L1067.0,997.5 L1067.4,998.8 L1067.8,1000.0 L1068.2,1001.2 L1068.6,1002.3 L1069.0,1003.2 L1069.5,1004.0 L1070.0,1004.6 L1070.5,1005.0 L1071.3,1005.3 L1072.1,1005.4 L1072.9,1005.3 L1073.8,1005.0 L1074.7,1004.5 L1075.6,1004.0 L1076.6,1003.4 L1077.5,1002.6 L1078.5,1001.9 L1079.4,1001.1 L1080.3,1000.2 L1081.2,999.5 L1082.1,998.7 L1082.8,998.1 L1083.5,997.3 L1084.2,996.5 L1084.9,995.6 L1085.6,994.6 L1086.4,993.6 L1087.1,992.7 L1087.8,991.7 L1088.4,990.7 L1089.1,989.8 L1089.7,988.9 L1090.4,988.1 L1091.0,987.4 L1091.5,986.9 L1092.1,986.4 L1092.6,986.1 L1093.6,986.0 L1094.5,986.6 L1095.2,987.7 L1095.8,988.9 L1096.4,990.2 L1097.1,991.1 L1097.8,991.4 L1098.6,991.1 L1099.4,990.3 L1100.3,989.3 L1101.1,988.1 L1101.9,987.1 L1102.6,986.3 L1103.3,985.9 L1103.9,986.5 L1104.3,988.2 L1104.6,989.9 L1105.3,990.9 L1106.5,990.3 L1106.9,989.9 L1107.3,989.3 L1107.7,988.7 L1108.2,987.9 L1108.7,987.1 L1109.2,986.1 L1109.8,985.1 L1110.3,984.0 L1110.9,982.9 L1111.5,981.8 L1112.2,980.6 L1112.8,979.5 L1113.4,978.3 L1114.0,977.2 L1114.7,976.1 L1115.3,975.0 L1115.9,974.0 L1116.5,973.1 L1117.1,972.2 L1117.6,971.4 L1118.2,970.8 L1118.7,970.3 L1119.2,969.9 L1119.6,969.6 L1120.3,969.5 L1120.9,969.8 L1121.5,970.4 L1122.0,971.3 L1122.5,972.4 L1123.0,973.6 L1123.4,974.9 L1123.9,976.3 L1124.3,977.6 L1124.8,978.8 L1125.3,979.9 L1125.9,980.7 L1126.5,981.3 L1127.2,981.6 L1127.9,981.6 L1128.6,981.3 L1129.3,980.8 L1130.1,980.2 L1130.9,979.5 L1131.7,978.7 L1132.6,977.8 L1133.4,976.8 L1134.3,975.9 L1135.2,975.0 L1136.0,974.1 L1136.9,973.4 L1137.7,972.7 L1138.6,972.2 L1139.4,971.9 L1140.2,971.8 L1141.0,971.9 L1141.9,972.1 L1142.7,972.5 L1143.6,973.0 L1144.4,973.6 L1145.2,974.3 L1146.1,975.0 L1146.9,975.8 L1147.7,976.7 L1148.5,977.5 L1149.3,978.4 L1150.0,979.3 L1150.8,980.1 L1151.5,980.9 L1152.2,981.6 L1153.0,982.4 L1153.7,983.4 L1154.5,984.4 L1155.2,985.4 L1155.8,986.5 L1156.5,987.5 L1157.1,988.5 L1157.8,989.5 L1158.4,990.3 L1159.0,991.1 L1159.7,991.7 L1160.3,992.2 L1160.9,992.5 L1161.8,992.5 L1162.7,991.9 L1163.5,991.0 L1164.4,989.8 L1165.2,988.6 L1166.0,987.6 L1166.8,986.9 L1167.7,986.6 L1168.5,987.0 L1168.9,987.4 L1169.2,987.9 L1169.6,988.6 L1170.0,989.4 L1170.3,990.2 L1170.7,991.2 L1171.1,992.2 L1171.4,993.3 L1171.8,994.4 L1172.2,995.5 L1172.5,996.7 L1172.9,997.9 L1173.3,999.0 L1173.6,1000.2 L1174.0,1001.3 L1174.4,1002.4 L1174.7,1003.4 L1175.1,1004.3 L1175.4,1005.2 L1175.8,1005.9 L1176.1,1006.6 L1177.0,1007.8 L1177.8,1008.4 L1178.7,1008.6 L1179.5,1008.7 L1180.4,1008.8 L1181.2,1009.3 L1181.9,1010.3 L1182.7,1012.0 L1182.9,1012.7 L1183.1,1013.4 L1183.3,1014.3 L1183.5,1015.2 L1183.7,1016.3 L1183.9,1017.4 L1184.1,1018.5 L1184.3,1019.7 L1184.5,1021.0 L1184.7,1022.3 L1184.9,1023.6 L1185.1,1024.9 L1185.3,1026.3 L1185.4,1027.6 L1185.6,1028.9 L1185.8,1030.2 L1186.0,1031.5 L1186.2,1032.8 L1186.4,1034.0 L1186.5,1035.1 L1186.7,1036.2 L1186.9,1037.2 L1187.1,1038.1 L1187.2,1038.9 L1187.4,1039.7 L1187.6,1040.3 L1187.8,1040.8 L1187.9,1041.2 L1188.1,1041.4 L1188.3,1041.5 L1188.6,1041.3 L1188.8,1040.8 L1189.0,1040.1 L1189.3,1039.2 L1189.5,1038.1 L1189.7,1036.9 L1189.9,1035.6 L1190.2,1034.2 L1190.4,1032.7 L1190.6,1031.2 L1190.8,1029.7 L1191.0,1028.3 L1191.2,1026.9 L1191.4,1025.6 L1191.6,1024.5 L1191.9,1023.5 L1192.1,1022.7 L1192.3,1022.1 L1192.5,1021.8 L1192.9,1021.7 L1193.2,1022.1 L1193.6,1022.9 L1193.9,1023.9 L1194.3,1025.2 L1194.6,1026.6 L1195.0,1028.1 L1195.4,1029.6 L1195.7,1031.0 L1196.1,1032.2 L1196.4,1033.2 L1196.8,1033.8 L1197.9,1034.0 L1199.0,1033.0 L1200.1,1032.1 L1201.2,1032.7 L1201.5,1033.3 L1201.7,1034.1 L1202.0,1035.2 L1202.3,1036.3 L1202.5,1037.6 L1202.8,1039.0 L1203.0,1040.4 L1203.3,1041.9 L1203.5,1043.3 L1203.8,1044.6 L1204.1,1045.8 L1204.3,1046.9 L1204.6,1047.8 L1204.9,1048.5 L1205.2,1048.9 L1205.5,1049.0 L1205.8,1048.8 L1206.1,1048.4 L1206.4,1047.7 L1206.7,1046.8 L1207.0,1045.7 L1207.3,1044.5 L1207.6,1043.2 L1207.9,1041.8 L1208.2,1040.4 L1208.6,1038.9 L1208.9,1037.6 L1209.2,1036.2 L1209.5,1035.0 L1209.8,1033.9 L1210.1,1033.0 L1210.4,1032.3 L1210.7,1031.8 L1211.0,1031.6 L1211.3,1031.7 L1211.6,1032.3 L1211.9,1033.1 L1212.1,1034.3 L1212.4,1035.6 L1212.6,1037.1 L1212.8,1038.7 L1213.1,1040.3 L1213.3,1041.8 L1213.6,1043.3 L1213.9,1044.5 L1214.2,1045.6 L1214.5,1046.4 L1214.9,1046.8 L1215.3,1046.8 L1215.6,1046.5 L1215.9,1046.0 L1216.2,1045.3 L1216.6,1044.3 L1216.9,1043.2 L1217.3,1042.0 L1217.7,1040.6 L1218.1,1039.2 L1218.5,1037.7 L1218.9,1036.2 L1219.3,1034.6 L1219.7,1033.1 L1220.1,1031.6 L1220.6,1030.2 L1221.0,1028.9 L1221.4,1027.7 L1221.8,1026.7 L1222.2,1025.8 L1222.6,1025.1 L1222.9,1024.7 L1223.3,1024.6 L1223.7,1024.7 L1224.0,1025.1 L1224.2,1025.4 L1224.3,1025.8 L1224.5,1026.3 L1224.6,1026.9 L1224.8,1027.5 L1224.9,1028.2 L1225.0,1029.0 L1225.2,1029.9 L1225.3,1030.8 L1225.5,1031.7 L1225.6,1032.7 L1225.7,1033.8 L1225.9,1034.9 L1226.0,1036.0 L1226.1,1037.2 L1226.3,1038.5 L1226.4,1039.7 L1226.5,1041.0 L1226.7,1042.3 L1226.8,1043.6 L1226.9,1044.9 L1227.1,1046.3 L1227.2,1047.6 L1227.3,1049.0 L1227.4,1050.4 L1227.6,1051.7 L1227.7,1053.1 L1227.8,1054.4 L1227.9,1055.8 L1228.1,1057.1 L1228.2,1058.4 L1228.3,1059.6 L1228.4,1060.9 L1228.6,1062.1 L1228.7,1063.3 L1228.8,1064.4 L1229.0,1065.5 L1229.1,1066.6 L1229.2,1067.6 L1229.3,1068.5 L1229.5,1069.4 L1229.6,1070.2 L1229.7,1071.0 L1229.8,1071.7 L1230.0,1072.3 L1230.1,1072.8 L1230.2,1073.3 L1230.4,1073.7 L1230.5,1074.0 L1230.8,1074.3 L1231.0,1074.4 L1231.3,1074.1 L1231.6,1073.5 L1231.8,1072.7 L1232.1,1071.7 L1232.3,1070.5 L1232.6,1069.2 L1232.8,1067.7 L1233.1,1066.1 L1233.3,1064.5 L1233.6,1062.8 L1233.9,1061.1 L1234.1,1059.4 L1234.4,1057.8 L1234.7,1056.3 L1234.9,1054.8 L1235.2,1053.5 L1235.5,1052.4 L1235.8,1051.4 L1236.1,1050.7 L1236.4,1050.2 L1236.8,1050.0 L1237.1,1050.1 L1237.3,1050.3 L1237.5,1050.7 L1237.8,1051.2 L1238.0,1051.7 L1238.2,1052.4 L1238.4,1053.1 L1238.6,1054.0 L1238.9,1054.9 L1239.1,1055.9 L1239.3,1057.0 L1239.6,1058.1 L1239.8,1059.3 L1240.1,1060.5 L1240.3,1061.8 L1240.5,1063.1 L1240.8,1064.4 L1241.0,1065.7 L1241.3,1067.1 L1241.5,1068.5 L1241.8,1069.8 L1242.1,1071.2 L1242.3,1072.5 L1242.6,1073.9 L1242.8,1075.2 L1243.1,1076.5 L1243.4,1077.7 L1243.7,1078.9 L1243.9,1080.0 L1244.2,1081.1 L1244.5,1082.1 L1244.8,1083.0 L1245.0,1083.9 L1245.3,1084.7 L1245.6,1085.4 L1245.9,1086.0 L1246.2,1086.5 L1246.5,1086.8 L1246.8,1087.1 L1247.3,1087.3 L1247.7,1087.2 L1248.2,1086.9 L1248.7,1086.4 L1249.3,1085.6 L1249.8,1084.8 L1250.3,1083.8 L1250.9,1082.6 L1251.4,1081.4 L1252.0,1080.1 L1252.5,1078.7 L1253.1,1077.3 L1253.6,1075.8 L1254.2,1074.4 L1254.7,1073.0 L1255.3,1071.6 L1255.8,1070.4 L1256.4,1069.2 L1256.9,1068.1 L1257.4,1067.2 L1258.0,1066.4 L1258.5,1065.8 L1259.0,1065.4 L1259.4,1065.2 L1259.9,1065.3 L1260.2,1065.5 L1260.6,1065.9 L1260.9,1066.4 L1261.2,1067.0 L1261.6,1067.8 L1261.9,1068.6 L1262.2,1069.5 L1262.5,1070.6 L1262.8,1071.7 L1263.1,1072.9 L1263.4,1074.1 L1263.7,1075.4 L1263.9,1076.7 L1264.2,1078.1 L1264.5,1079.4 L1264.8,1080.8 L1265.1,1082.2 L1265.4,1083.6 L1265.6,1084.9 L1265.9,1086.3 L1266.2,1087.6 L1266.5,1088.8 L1266.8,1090.0 L1267.0,1091.2 L1267.3,1092.2 L1267.6,1093.2 L1267.9,1094.1 L1268.2,1094.9 L1268.5,1095.5 L1268.8,1096.1 L1269.1,1096.5 L1269.4,1096.8 L1269.7,1096.9 L1270.0,1096.9 L1270.4,1096.6 L1270.8,1096.2 L1271.1,1095.7 L1271.5,1094.9 L1271.9,1094.1 L1272.3,1093.1 L1272.6,1092.1 L1273.0,1090.9 L1273.4,1089.6 L1273.8,1088.3 L1274.2,1087.0 L1274.6,1085.6 L1275.0,1084.1 L1275.4,1082.7 L1275.7,1081.2 L1276.1,1079.8 L1276.5,1078.4 L1276.9,1077.0 L1277.3,1075.7 L1277.6,1074.5 L1278.0,1073.3 L1278.3,1072.3 L1278.7,1071.3 L1279.0,1070.5 L1279.4,1069.8 L1279.7,1069.2 L1280.0,1068.8 L1280.3,1068.6 L1280.6,1068.6 L1280.9,1068.7 L1281.1,1069.1 L1281.4,1069.5 L1281.6,1070.1 L1281.8,1070.8 L1282.0,1071.7 L1282.2,1072.6 L1282.5,1073.7 L1282.7,1074.8 L1282.9,1076.0 L1283.1,1077.3 L1283.2,1078.7 L1283.4,1080.1 L1283.6,1081.5 L1283.8,1082.9 L1284.0,1084.4 L1284.1,1085.8 L1284.3,1087.3 L1284.5,1088.7 L1284.7,1090.1 L1284.8,1091.5 L1285.0,1092.8 L1285.2,1094.1 L1285.4,1095.3 L1285.5,1096.4 L1285.7,1097.4 L1285.9,1098.4 L1286.1,1099.2 L1286.3,1099.9 L1286.5,1100.4 L1286.7,1100.8 L1286.9,1101.1 L1287.1,1101.2 L1287.3,1101.1 L1287.5,1100.9 L1287.8,1100.5 L1288.0,1099.9 L1288.2,1099.2 L1288.5,1098.4 L1288.7,1097.5 L1288.9,1096.5 L1289.2,1095.3 L1289.4,1094.1 L1289.7,1092.8 L1289.9,1091.5 L1290.2,1090.1 L1290.4,1088.7 L1290.7,1087.2 L1290.9,1085.8 L1291.1,1084.3 L1291.4,1082.9 L1291.6,1081.4 L1291.9,1080.0 L1292.1,1078.7 L1292.4,1077.4 L1292.6,1076.1 L1292.9,1075.0 L1293.1,1073.9 L1293.3,1072.9 L1293.6,1072.0 L1293.8,1071.3 L1294.0,1070.6 L1294.3,1070.2 L1294.5,1069.9 L1294.7,1069.7 L1295.0,1069.7 L1295.2,1070.0 L1295.5,1070.4 L1295.7,1070.9 L1296.0,1071.7 L1296.2,1072.6 L1296.4,1073.6 L1296.7,1074.7 L1296.9,1075.9 L1297.1,1077.2 L1297.4,1078.5 L1297.6,1079.9 L1297.8,1081.4 L1298.1,1082.8 L1298.3,1084.3 L1298.5,1085.7 L1298.8,1087.2 L1299.0,1088.6 L1299.2,1089.9 L1299.5,1091.2 L1299.7,1092.4 L1299.9,1093.5 L1300.2,1094.4 L1300.4,1095.3 L1300.7,1096.0 L1300.9,1096.5 L1301.2,1096.9 L1301.7,1097.2 L1302.2,1097.0 L1302.8,1096.5 L1303.3,1095.7 L1303.9,1094.6 L1304.5,1093.3 L1305.1,1091.9 L1305.6,1090.5 L1306.2,1089.1 L1306.8,1087.8 L1307.3,1086.7 L1307.9,1085.8 L1308.4,1085.1 L1308.9,1084.9 L1309.5,1085.1 L1310.0,1085.6 L1310.6,1086.4 L1311.1,1087.4 L1311.6,1088.6 L1312.1,1089.9 L1312.6,1091.3 L1313.1,1092.5 L1313.6,1093.7 L1314.2,1094.7 L1314.8,1095.4 L1315.4,1095.8 L1316.2,1096.0 L1317.0,1096.0 L1317.9,1095.9 L1318.8,1095.7 L1319.7,1095.2 L1320.6,1094.6 L1321.5,1093.8 L1322.4,1092.9 L1323.3,1091.7 L1324.1,1090.4 L1324.4,1089.7 L1324.8,1089.0 L1325.1,1088.1 L1325.5,1087.2 L1325.8,1086.1 L1326.1,1085.0 L1326.5,1083.9 L1326.8,1082.7 L1327.1,1081.4 L1327.5,1080.2 L1327.8,1078.9 L1328.1,1077.7 L1328.4,1076.4 L1328.7,1075.2 L1329.1,1074.1 L1329.4,1073.0 L1329.7,1071.9 L1330.0,1071.0 L1330.3,1070.1 L1330.6,1069.3 L1330.9,1068.7 L1331.1,1068.1 L1331.4,1067.7 L1331.7,1067.5 L1332.1,1067.4 L1332.5,1067.6 L1332.8,1068.1 L1333.2,1068.8 L1333.5,1069.7 L1333.8,1070.8 L1334.1,1072.0 L1334.4,1073.3 L1334.7,1074.6 L1335.0,1076.0 L1335.3,1077.3 L1335.6,1078.6 L1336.0,1079.8 L1336.3,1081.0 L1336.7,1081.9 L1337.1,1082.7 L1337.8,1083.6 L1338.5,1084.2 L1339.2,1084.6 L1340.0,1084.8 L1340.8,1085.1 L1341.5,1085.4 L1342.3,1085.8 L1343.1,1086.6 L1343.9,1087.7 L1344.7,1089.3 L1344.9,1089.9 L1345.2,1090.7 L1345.4,1091.5 L1345.7,1092.4 L1345.9,1093.4 L1346.2,1094.5 L1346.5,1095.6 L1346.7,1096.8 L1347.0,1098.0 L1347.2,1099.2 L1347.5,1100.5 L1347.7,1101.8 L1348.0,1103.1 L1348.2,1104.4 L1348.5,1105.7 L1348.7,1107.0 L1349.0,1108.3 L1349.3,1109.5 L1349.5,1110.7 L1349.8,1111.9 L1350.0,1113.0 L1350.2,1114.1 L1350.5,1115.0 L1350.7,1116.0 L1351.0,1116.8 L1351.2,1117.6 L1351.5,1118.2 L1351.7,1118.8 L1351.9,1119.2 L1352.2,1119.5 L1352.4,1119.7 L1352.7,1119.8 L1353.0,1119.7 L1353.3,1119.4 L1353.6,1119.0 L1353.9,1118.5 L1354.2,1117.8 L1354.5,1117.0 L1354.8,1116.1 L1355.1,1115.1 L1355.4,1114.0 L1355.7,1112.8 L1355.9,1111.6 L1356.2,1110.3 L1356.5,1109.0 L1356.8,1107.7 L1357.0,1106.3 L1357.3,1104.9 L1357.6,1103.5 L1357.8,1102.1 L1358.1,1100.8 L1358.4,1099.4 L1358.6,1098.1 L1358.9,1096.9 L1359.1,1096.0 L1359.3,1095.0 L1359.4,1094.0 L1359.6,1092.8 L1359.8,1091.6 L1360.0,1090.4 L1360.1,1089.1 L1360.3,1087.7 L1360.5,1086.3 L1360.6,1084.9 L1360.8,1083.5 L1361.0,1082.1 L1361.2,1080.6 L1361.3,1079.2 L1361.5,1077.8 L1361.6,1076.4 L1361.8,1075.0 L1362.0,1073.7 L1362.1,1072.5 L1362.3,1071.2 L1362.5,1070.1 L1362.6,1069.0 L1362.8,1068.0 L1362.9,1067.1 L1363.1,1066.3 L1363.2,1065.6 L1363.4,1065.0 L1363.5,1064.5 L1363.7,1064.2 L1363.9,1064.0 L1364.0,1063.9 L1364.2,1064.0 L1364.3,1064.3 L1364.4,1064.5 L1364.5,1064.9 L1364.6,1065.3 L1364.7,1065.7 L1364.7,1066.3 L1364.8,1066.9 L1364.9,1067.5 L1365.0,1068.3 L1365.1,1069.0 L1365.2,1069.9 L1365.2,1070.8 L1365.3,1071.7 L1365.4,1072.7 L1365.5,1073.7 L1365.6,1074.8 L1365.7,1075.9 L1365.7,1077.0 L1365.8,1078.2 L1365.9,1079.4 L1366.0,1080.7 L1366.1,1081.9 L1366.1,1083.2 L1366.2,1084.5 L1366.3,1085.8 L1366.4,1087.1 L1366.5,1088.5 L1366.5,1089.8 L1366.6,1091.2 L1366.7,1092.5 L1366.8,1093.9 L1366.8,1095.2 L1366.9,1096.6 L1367.0,1097.9 L1367.1,1099.3 L1367.1,1100.6 L1367.2,1101.9 L1367.3,1103.1 L1367.4,1104.4 L1367.5,1105.6 L1367.5,1106.8 L1367.6,1108.0 L1367.7,1109.1 L1367.8,1110.2 L1367.8,1111.3 L1367.9,1112.3 L1368.0,1113.3 L1368.1,1114.3 L1368.2,1115.1 L1368.2,1116.0 L1368.3,1116.7 L1368.4,1117.5 L1368.5,1118.1 L1368.5,1118.7 L1368.6,1119.2 L1368.7,1119.7 L1369.2,1121.5 L1369.7,1122.0 L1370.1,1121.4 L1370.6,1120.0 L1371.1,1118.2 L1371.6,1116.0 L1372.0,1113.9 L1372.5,1112.2 L1373.0,1111.0 L1373.8,1109.8 L1374.6,1108.8 L1375.5,1107.8 L1376.3,1106.9 L1376.9,1106.1 L1377.4,1105.6" stroke="#c00000" stroke-width="3.1" fill="none" stroke-linejoin="round"/>
<path d="M834.6,1112.2 L834.7,1111.6 L834.8,1110.9 L835.0,1110.1 L835.1,1109.2 L835.3,1108.1 L835.5,1107.0 L835.7,1105.8 L835.9,1104.6 L836.1,1103.3 L836.3,1102.0 L836.5,1100.7 L836.7,1099.4 L837.0,1098.0 L837.2,1096.7 L837.4,1095.4 L837.7,1094.2 L837.9,1093.0 L838.1,1091.9 L838.3,1090.8 L838.6,1089.9 L838.8,1089.1 L839.0,1088.3 L839.2,1087.7 L839.3,1087.3 L839.5,1087.0 L839.8,1086.8 L840.0,1087.0 L840.2,1087.6 L840.5,1088.4 L840.6,1089.5 L840.8,1090.7 L841.0,1092.1 L841.2,1093.6 L841.4,1095.1 L841.6,1096.6 L841.8,1098.1 L842.1,1099.4 L842.3,1100.6 L842.6,1101.6 L843.0,1102.9 L843.5,1104.2 L844.1,1105.6 L844.6,1106.9 L845.2,1108.1 L845.8,1109.2 L846.3,1110.1 L846.9,1110.8 L847.4,1111.1 L847.9,1111.1 L848.2,1110.8 L848.5,1110.1 L848.8,1109.2 L849.1,1108.1 L849.4,1106.8 L849.7,1105.4 L849.9,1104.0 L850.2,1102.6 L850.5,1101.2 L850.8,1100.0 L851.1,1099.0 L851.4,1098.2 L851.7,1097.7 L852.0,1097.5 L852.3,1097.7 L852.7,1098.2 L853.0,1098.9 L853.4,1099.8 L853.7,1100.8 L854.1,1102.0 L854.5,1103.3 L854.8,1104.7 L855.2,1106.0 L855.6,1107.3 L855.9,1108.6 L856.3,1109.7 L856.6,1110.8 L857.0,1111.6 L857.3,1112.2 L858.4,1113.6 L859.4,1114.2 L860.4,1113.7 L861.5,1112.2 L861.8,1111.6 L862.1,1110.9 L862.4,1109.9 L862.7,1108.9 L863.0,1107.8 L863.3,1106.6 L863.7,1105.3 L864.0,1104.1 L864.3,1102.8 L864.6,1101.5 L865.0,1100.3 L865.3,1099.2 L865.6,1098.1 L865.9,1097.2 L866.2,1096.4 L866.5,1095.8 L866.8,1095.4 L867.5,1095.0 L868.1,1095.2 L868.7,1095.8 L869.3,1096.9 L869.8,1098.3 L870.4,1099.9 L871.0,1101.6 L871.2,1102.4 L871.5,1103.3 L871.7,1104.3 L871.9,1105.5 L872.1,1106.7 L872.4,1108.0 L872.6,1109.3 L872.8,1110.7 L873.0,1112.0 L873.3,1113.3 L873.5,1114.5 L873.7,1115.7 L874.0,1116.7 L874.2,1117.6 L874.4,1118.4 L874.7,1119.0 L874.9,1119.3 L875.2,1119.5 L875.5,1119.4 L875.8,1119.0 L876.1,1118.4 L876.4,1117.6 L876.7,1116.6 L877.0,1115.5 L877.3,1114.3 L877.6,1113.0 L877.9,1111.6 L878.2,1110.2 L878.5,1108.9 L878.8,1107.6 L879.1,1106.3 L879.5,1105.2 L879.8,1104.2 L880.1,1103.3 L880.4,1102.7 L881.5,1101.6 L882.5,1101.5 L883.6,1101.9 L884.6,1102.1 L885.7,1101.6 L886.2,1100.9 L886.7,1100.0 L887.2,1099.0 L887.6,1097.8 L888.1,1096.6 L888.6,1095.4 L889.1,1094.3 L889.7,1093.3 L890.3,1092.6 L890.9,1092.2 L891.7,1092.2 L892.6,1092.6 L893.5,1093.3 L894.4,1094.2 L895.4,1095.2 L896.4,1096.0 L897.4,1096.5 L898.3,1096.7 L899.3,1096.4 L899.8,1096.0 L900.3,1095.3 L900.8,1094.5 L901.3,1093.5 L901.8,1092.5 L902.3,1091.3 L902.9,1090.1 L903.4,1088.9 L903.9,1087.6 L904.4,1086.4 L904.9,1085.2 L905.4,1084.1 L905.9,1083.1 L906.3,1082.2 L906.8,1081.5 L907.3,1080.9 L907.7,1080.6 L908.4,1080.6 L909.1,1081.1 L909.7,1082.1 L910.4,1083.3 L911.0,1084.7 L911.6,1086.1 L912.2,1087.4 L912.8,1088.4 L913.4,1089.0 L914.0,1089.0 L914.4,1088.7 L914.8,1088.1 L915.3,1087.4 L915.7,1086.5 L916.1,1085.4 L916.5,1084.3 L916.9,1083.1 L917.4,1081.8 L917.8,1080.5 L918.2,1079.3 L918.6,1078.1 L919.0,1076.9 L919.5,1075.9 L919.9,1075.0 L920.3,1074.3 L921.2,1073.2 L922.2,1072.5 L923.1,1072.1 L924.0,1071.8 L925.0,1071.5 L925.8,1070.9 L926.6,1070.1 L927.1,1069.4 L927.5,1068.5 L927.8,1067.5 L928.2,1066.4 L928.5,1065.3 L928.9,1064.2 L929.2,1063.1 L929.6,1062.0 L929.9,1061.1 L930.3,1060.3 L930.8,1059.6 L931.7,1058.9 L932.7,1058.9 L933.7,1059.0 L934.8,1059.1 L935.9,1058.7 L937.1,1057.5 L937.5,1056.9 L937.9,1056.1 L938.3,1055.2 L938.8,1054.1 L939.2,1053.0 L939.7,1051.8 L940.1,1050.5 L940.6,1049.2 L941.1,1047.9 L941.5,1046.6 L942.0,1045.3 L942.5,1044.2 L942.9,1043.1 L943.4,1042.1 L943.8,1041.2 L944.3,1040.6 L944.7,1040.1 L945.1,1039.8 L945.5,1039.7 L945.9,1039.9 L946.2,1040.3 L946.5,1040.8 L946.9,1041.6 L947.2,1042.5 L947.5,1043.5 L947.8,1044.7 L948.1,1045.9 L948.4,1047.2 L948.6,1048.5 L948.9,1049.9 L949.2,1051.3 L949.5,1052.6 L949.8,1053.9 L950.1,1055.1 L950.4,1056.3 L950.8,1057.3 L951.1,1058.2 L951.4,1059.0 L951.8,1059.6 L952.8,1060.8 L953.8,1061.7 L954.9,1062.4 L956.0,1062.8 L957.1,1062.8 L958.2,1062.3 L959.2,1061.2 L960.2,1059.6 L960.4,1059.1 L960.7,1058.4 L960.9,1057.7 L961.1,1056.9 L961.3,1056.0 L961.5,1055.0 L961.8,1053.9 L962.0,1052.9 L962.2,1051.7 L962.4,1050.5 L962.6,1049.3 L962.8,1048.1 L963.0,1046.8 L963.2,1045.5 L963.4,1044.2 L963.6,1042.9 L963.8,1041.6 L964.0,1040.4 L964.2,1039.1 L964.4,1037.9 L964.6,1036.7 L964.8,1035.6 L964.9,1034.5 L965.1,1033.5 L965.3,1032.5 L965.5,1031.6 L965.7,1030.8 L965.8,1030.0 L966.0,1029.4 L966.2,1028.9 L966.3,1028.4 L966.5,1028.1 L966.8,1027.8 L967.2,1028.0 L967.5,1028.7 L967.7,1029.7 L968.0,1031.0 L968.3,1032.5 L968.5,1034.1 L968.8,1035.8 L969.0,1037.4 L969.3,1039.0 L969.6,1040.4 L969.8,1041.5 L970.1,1042.4 L970.4,1042.8 L970.7,1042.8 L970.9,1042.5 L971.1,1042.1 L971.3,1041.6 L971.5,1040.9 L971.7,1040.1 L971.9,1039.2 L972.1,1038.1 L972.3,1037.1 L972.5,1035.9 L972.8,1034.7 L973.0,1033.5 L973.2,1032.2 L973.4,1030.9 L973.7,1029.6 L973.9,1028.3 L974.1,1027.0 L974.4,1025.8 L974.6,1024.6 L974.9,1023.4 L975.1,1022.4 L975.4,1021.4 L975.7,1020.5 L976.0,1019.7 L976.6,1018.4 L977.2,1017.1 L977.8,1015.8 L978.5,1014.6 L979.2,1013.4 L979.9,1012.3 L980.6,1011.4 L981.3,1010.5 L982.0,1009.8 L982.7,1009.4 L983.3,1009.1 L983.9,1009.0 L984.4,1009.2 L984.7,1009.6 L985.0,1010.2 L985.3,1011.0 L985.5,1012.0 L985.8,1013.1 L986.0,1014.4 L986.2,1015.8 L986.4,1017.2 L986.6,1018.6 L986.8,1020.1 L987.0,1021.5 L987.2,1022.9 L987.3,1024.2 L987.5,1025.3 L987.7,1026.3 L987.9,1027.1 L988.1,1027.7 L988.4,1028.0 L988.6,1028.1 L988.8,1027.9 L989.0,1027.5 L989.3,1026.9 L989.5,1026.2 L989.7,1025.3 L990.0,1024.2 L990.2,1023.1 L990.5,1021.8 L990.7,1020.5 L991.0,1019.2 L991.2,1017.8 L991.4,1016.3 L991.7,1015.0 L991.9,1013.6 L992.2,1012.3 L992.4,1011.0 L992.7,1009.9 L992.9,1008.8 L993.1,1007.9 L993.4,1007.1 L993.6,1006.5 L993.8,1006.1 L994.3,1005.8 L994.6,1006.2 L995.0,1007.1 L995.3,1008.4 L995.6,1010.0 L996.0,1011.5 L996.5,1012.9 L997.2,1014.0 L998.0,1014.5 L998.7,1014.6 L999.6,1014.5 L1000.5,1014.4 L1001.5,1014.1 L1002.6,1013.8 L1003.7,1013.3 L1004.9,1012.9 L1006.0,1012.4 L1007.1,1011.9 L1008.1,1011.5 L1009.0,1011.0 L1009.9,1010.6 L1010.6,1010.3 L1012.0,1009.9 L1012.8,1010.0 L1013.4,1009.9 L1014.0,1009.1 L1014.8,1007.1 L1015.0,1006.5 L1015.2,1005.7 L1015.4,1004.9 L1015.6,1004.0 L1015.8,1003.0 L1016.0,1002.0 L1016.2,1000.9 L1016.4,999.7 L1016.6,998.5 L1016.8,997.3 L1017.1,996.0 L1017.3,994.8 L1017.5,993.5 L1017.7,992.3 L1017.9,991.1 L1018.1,989.9 L1018.4,988.7 L1018.6,987.6 L1018.8,986.5 L1019.0,985.5 L1019.2,984.6 L1019.5,983.8 L1019.7,983.1 L1019.9,982.4 L1020.1,981.9 L1021.0,980.8 L1021.8,981.4 L1022.6,982.8 L1023.7,983.9 L1025.4,984.0 L1026.0,983.7 L1026.8,983.3 L1027.6,982.8 L1028.4,982.3 L1029.3,981.7 L1030.3,981.1 L1031.3,980.4 L1032.3,979.6 L1033.3,978.9 L1034.3,978.2 L1035.2,977.4 L1036.2,976.7 L1037.1,975.9 L1037.9,975.3 L1038.7,974.6 L1039.4,974.0 L1040.0,973.5 L1041.2,972.5 L1042.0,971.7 L1042.6,971.1 L1043.0,970.4 L1043.4,969.6 L1043.8,968.6 L1044.3,967.2 L1044.5,966.4 L1044.8,965.5 L1045.0,964.4 L1045.2,963.2 L1045.4,961.9 L1045.7,960.5 L1045.9,959.1 L1046.1,957.8 L1046.3,956.4 L1046.6,955.1 L1046.8,954.0 L1047.0,952.9 L1047.3,952.0 L1047.6,951.2 L1047.9,950.7 L1048.2,950.4 L1048.5,950.4 L1048.8,950.6 L1049.1,951.0 L1049.3,951.7 L1049.7,952.5 L1050.0,953.4 L1050.3,954.5 L1050.6,955.7 L1051.0,956.9 L1051.3,958.3 L1051.7,959.6 L1052.0,961.0 L1052.4,962.4 L1052.7,963.8 L1053.1,965.1 L1053.4,966.4 L1053.8,967.5 L1054.1,968.6 L1054.5,969.5 L1054.8,970.3 L1055.2,970.8 L1055.5,971.2 L1055.8,971.4 L1056.2,971.3 L1056.5,970.9 L1056.8,970.3 L1057.2,969.4 L1057.5,968.4 L1057.8,967.2 L1058.1,965.9 L1058.5,964.5 L1058.8,963.0 L1059.1,961.5 L1059.4,960.1 L1059.7,958.6 L1060.1,957.3 L1060.4,956.0 L1060.7,954.9 L1061.1,954.0 L1061.4,953.2 L1061.7,952.7 L1062.1,952.5 L1062.5,952.6 L1062.9,953.0 L1063.4,953.7 L1063.8,954.6 L1064.3,955.7 L1064.7,957.0 L1065.2,958.3 L1065.6,959.7 L1066.1,961.2 L1066.6,962.6 L1067.0,964.0 L1067.5,965.2 L1067.9,966.3 L1068.3,967.2 L1068.7,967.9 L1069.1,968.2 L1069.5,968.3 L1069.8,968.1 L1070.1,967.7 L1070.4,967.1 L1070.7,966.3 L1071.0,965.4 L1071.2,964.3 L1071.5,963.2 L1071.7,962.0 L1072.0,960.7 L1072.2,959.3 L1072.5,958.0 L1072.7,956.7 L1073.0,955.3 L1073.2,954.0 L1073.4,952.8 L1073.7,951.7 L1073.9,950.6 L1074.2,949.7 L1074.4,948.9 L1074.7,948.3 L1075.8,947.1 L1076.9,947.1 L1078.0,947.6 L1079.0,947.9 L1080.0,947.3 L1080.4,946.7 L1080.7,945.9 L1081.1,944.9 L1081.4,943.9 L1081.7,942.7 L1082.1,941.5 L1082.4,940.3 L1082.7,939.2 L1083.0,938.0 L1083.3,937.0 L1083.6,936.1 L1083.9,935.3 L1084.2,934.7 L1085.3,934.3 L1086.2,935.2 L1087.3,934.7 L1087.6,934.0 L1087.8,933.1 L1088.1,931.9 L1088.4,930.5 L1088.6,929.1 L1088.9,927.5 L1089.2,926.0 L1089.5,924.6 L1089.8,923.3 L1090.1,922.2 L1090.4,921.3 L1090.8,920.8 L1091.1,920.7 L1091.5,921.0 L1091.7,921.3 L1091.9,921.8 L1092.0,922.3 L1092.2,923.0 L1092.4,923.7 L1092.6,924.6 L1092.8,925.5 L1093.1,926.5 L1093.3,927.6 L1093.5,928.7 L1093.7,929.9 L1093.9,931.1 L1094.1,932.3 L1094.4,933.6 L1094.6,934.8 L1094.8,936.1 L1095.0,937.4 L1095.3,938.7 L1095.5,939.9 L1095.7,941.2 L1095.9,942.4 L1096.1,943.5 L1096.4,944.7 L1096.6,945.7 L1096.8,946.7 L1097.0,947.6 L1097.2,948.5 L1097.4,949.2 L1097.6,949.9 L1097.8,950.4 L1099.0,952.5 L1100.1,953.2 L1101.2,952.8 L1102.2,951.7 L1103.1,950.4 L1103.4,949.7 L1103.7,948.8 L1104.0,947.7 L1104.3,946.4 L1104.5,945.0 L1104.7,943.6 L1105.0,942.2 L1105.2,940.8 L1105.4,939.6 L1105.7,938.6 L1105.9,937.7 L1106.2,937.2 L1106.5,937.0 L1106.8,937.2 L1107.1,937.7 L1107.4,938.4 L1107.7,939.4 L1108.0,940.6 L1108.3,941.9 L1108.6,943.2 L1108.9,944.6 L1109.3,945.9 L1109.6,947.2 L1110.0,948.3 L1110.5,949.3 L1110.9,950.0 L1111.8,951.0 L1112.9,951.7 L1114.1,952.2 L1115.3,952.5 L1116.4,952.5 L1117.5,952.5 L1118.5,952.2 L1119.2,951.6 L1119.9,950.5 L1120.5,949.1 L1121.1,947.6 L1121.7,946.3 L1122.2,945.3 L1122.8,944.9 L1123.5,945.3 L1123.8,945.7 L1124.0,946.4 L1124.3,947.2 L1124.5,948.2 L1124.7,949.4 L1125.0,950.6 L1125.2,952.0 L1125.5,953.4 L1125.7,954.8 L1126.0,956.2 L1126.2,957.6 L1126.5,959.0 L1126.8,960.3 L1127.1,961.5 L1127.4,962.6 L1127.8,963.5 L1128.1,964.3 L1128.5,964.9 L1128.9,965.2 L1129.4,965.3 L1129.8,965.2 L1130.2,964.9 L1130.7,964.5 L1131.2,963.9 L1131.7,963.2 L1132.2,962.4 L1132.8,961.5 L1133.3,960.5 L1133.9,959.4 L1134.5,958.3 L1135.1,957.1 L1135.7,955.9 L1136.3,954.7 L1136.9,953.5 L1137.5,952.3 L1138.1,951.1 L1138.6,949.9 L1139.2,948.8 L1139.7,947.8 L1140.2,946.8 L1140.7,945.9 L1141.2,945.1 L1141.6,944.4 L1142.0,943.9 L1142.4,943.5 L1143.5,943.0 L1144.3,943.4 L1144.9,944.6 L1145.4,946.1 L1145.8,947.5 L1146.3,948.6 L1146.8,949.0 L1147.4,948.4 L1148.0,946.9 L1148.6,945.0 L1149.2,943.2 L1149.8,941.9 L1150.4,941.4 L1151.1,942.4 L1151.3,942.8 L1151.4,943.4 L1151.6,944.1 L1151.7,944.8 L1151.9,945.6 L1152.1,946.6 L1152.2,947.5 L1152.4,948.6 L1152.6,949.7 L1152.7,950.8 L1152.9,952.0 L1153.1,953.3 L1153.3,954.5 L1153.4,955.8 L1153.6,957.1 L1153.8,958.4 L1154.0,959.7 L1154.1,961.0 L1154.3,962.3 L1154.5,963.5 L1154.7,964.7 L1154.8,965.9 L1155.0,967.0 L1155.2,968.1 L1155.4,969.1 L1155.6,970.1 L1155.7,971.0 L1155.9,971.8 L1156.1,972.5 L1156.3,973.1 L1156.4,973.6 L1156.6,974.0 L1157.1,974.6 L1157.6,974.4 L1158.1,973.5 L1158.6,972.3 L1159.1,970.8 L1159.6,969.1 L1160.0,967.4 L1160.5,966.0 L1161.0,964.8 L1161.5,964.2 L1162.0,964.2 L1162.3,964.5 L1162.6,965.1 L1162.8,965.8 L1163.1,966.7 L1163.4,967.7 L1163.7,968.8 L1163.9,970.0 L1164.2,971.2 L1164.5,972.5 L1164.8,973.8 L1165.0,975.2 L1165.3,976.4 L1165.6,977.7 L1165.9,978.8 L1166.2,979.9 L1166.5,980.8 L1166.8,981.6 L1167.1,982.3 L1167.4,982.7 L1168.2,983.0 L1168.9,982.5 L1169.7,981.4 L1170.5,980.1 L1171.3,978.7 L1172.2,977.6 L1173.1,977.0 L1174.0,977.2 L1174.4,977.6 L1174.9,978.2 L1175.4,979.0 L1175.9,979.9 L1176.4,981.0 L1176.9,982.1 L1177.4,983.3 L1178.0,984.6 L1178.5,985.8 L1179.0,987.1 L1179.5,988.3 L1180.0,989.4 L1180.5,990.5 L1181.0,991.4 L1181.5,992.2 L1181.9,992.9 L1182.3,993.3 L1182.7,993.5 L1183.2,993.4 L1183.6,992.7 L1184.0,991.7 L1184.3,990.4 L1184.6,988.9 L1184.9,987.2 L1185.2,985.6 L1185.5,984.0 L1185.7,982.6 L1186.0,981.4 L1186.3,980.6 L1186.6,980.3 L1187.0,980.5 L1187.2,980.8 L1187.4,981.3 L1187.6,982.0 L1187.8,982.7 L1188.0,983.6 L1188.2,984.6 L1188.4,985.6 L1188.6,986.8 L1188.9,988.0 L1189.1,989.3 L1189.3,990.6 L1189.5,991.9 L1189.8,993.3 L1190.0,994.6 L1190.2,996.0 L1190.4,997.3 L1190.6,998.6 L1190.9,999.9 L1191.1,1001.0 L1191.3,1002.2 L1191.5,1003.2 L1191.7,1004.1 L1191.9,1004.9 L1192.1,1005.6 L1192.3,1006.2 L1192.5,1006.6 L1193.0,1007.1 L1193.5,1006.7 L1194.0,1005.6 L1194.4,1004.1 L1194.9,1002.4 L1195.3,1000.7 L1195.8,999.3 L1196.3,998.2 L1196.8,997.9 L1197.2,998.1 L1197.7,998.7 L1198.2,999.4 L1198.7,1000.4 L1199.2,1001.5 L1199.7,1002.7 L1200.2,1003.9 L1200.7,1005.1 L1201.2,1006.1 L1201.7,1007.0 L1202.2,1007.7 L1203.3,1008.5 L1204.3,1008.8 L1205.3,1008.9 L1206.5,1009.2 L1207.7,1009.9 L1208.3,1010.5 L1209.0,1011.2 L1209.7,1012.1 L1210.5,1013.1 L1211.3,1014.1 L1212.0,1015.1 L1212.8,1016.0 L1213.5,1016.9 L1214.2,1017.7 L1214.8,1018.2 L1215.3,1018.6 L1216.4,1018.3 L1217.2,1016.9 L1217.9,1015.5 L1218.6,1015.3 L1218.9,1015.8 L1219.2,1016.6 L1219.5,1017.6 L1219.7,1018.7 L1220.0,1020.0 L1220.3,1021.3 L1220.6,1022.5 L1220.9,1023.6 L1221.3,1024.5 L1221.8,1025.1 L1222.7,1025.4 L1223.7,1025.0 L1224.8,1024.3 L1226.0,1023.8 L1227.2,1023.9 L1228.4,1025.1 L1228.7,1025.6 L1229.0,1026.3 L1229.3,1027.1 L1229.6,1028.0 L1230.0,1029.0 L1230.3,1030.0 L1230.6,1031.1 L1230.9,1032.3 L1231.3,1033.5 L1231.6,1034.7 L1231.9,1036.0 L1232.3,1037.2 L1232.6,1038.5 L1232.9,1039.7 L1233.3,1040.9 L1233.6,1042.0 L1233.9,1043.1 L1234.2,1044.1 L1234.5,1045.0 L1234.8,1045.8 L1235.1,1046.6 L1235.4,1047.1 L1235.7,1047.6 L1236.0,1047.9 L1236.5,1048.0 L1237.0,1047.7 L1237.4,1046.9 L1237.8,1045.8 L1238.2,1044.5 L1238.6,1043.0 L1239.0,1041.4 L1239.4,1039.9 L1239.8,1038.6 L1240.2,1037.4 L1240.6,1036.5 L1241.0,1036.0 L1241.4,1036.0 L1241.7,1036.3 L1242.0,1036.8 L1242.2,1037.5 L1242.5,1038.3 L1242.8,1039.3 L1243.1,1040.4 L1243.3,1041.6 L1243.6,1042.9 L1243.9,1044.2 L1244.2,1045.5 L1244.4,1046.8 L1244.7,1048.1 L1245.0,1049.4 L1245.3,1050.6 L1245.6,1051.6 L1245.9,1052.6 L1246.2,1053.4 L1246.5,1054.1 L1246.8,1054.5 L1247.6,1054.9 L1248.3,1054.5 L1249.1,1053.5 L1250.0,1052.3 L1250.8,1051.0 L1251.7,1049.9 L1252.5,1049.1 L1253.4,1049.0 L1254.0,1049.4 L1254.6,1050.1 L1255.2,1051.1 L1255.9,1052.3 L1256.5,1053.6 L1257.1,1055.0 L1257.8,1056.3 L1258.4,1057.4 L1259.1,1058.3 L1259.7,1058.9 L1260.4,1059.1 L1261.0,1058.8 L1261.3,1058.4 L1261.6,1057.9 L1262.0,1057.2 L1262.3,1056.3 L1262.6,1055.4 L1263.0,1054.3 L1263.3,1053.1 L1263.6,1051.9 L1263.9,1050.6 L1264.3,1049.2 L1264.6,1047.9 L1264.9,1046.5 L1265.3,1045.2 L1265.6,1043.8 L1265.9,1042.6 L1266.2,1041.3 L1266.5,1040.2 L1266.9,1039.2 L1267.2,1038.3 L1267.5,1037.5 L1267.8,1036.8 L1268.0,1036.4 L1268.3,1036.1 L1268.6,1036.0 L1268.9,1036.1 L1269.1,1036.5 L1269.4,1037.0 L1269.6,1037.7 L1269.8,1038.6 L1270.1,1039.6 L1270.3,1040.7 L1270.5,1041.9 L1270.7,1043.2 L1270.9,1044.5 L1271.1,1045.9 L1271.3,1047.3 L1271.5,1048.8 L1271.7,1050.2 L1271.9,1051.6 L1272.1,1052.9 L1272.3,1054.2 L1272.5,1055.4 L1272.8,1056.5 L1273.0,1057.5 L1273.2,1058.4 L1273.5,1059.1 L1273.7,1059.6 L1274.0,1059.9 L1274.5,1060.0 L1274.9,1059.5 L1275.4,1058.6 L1275.9,1057.3 L1276.5,1055.8 L1277.0,1054.1 L1277.6,1052.4 L1278.1,1050.7 L1278.7,1049.0 L1279.2,1047.6 L1279.8,1046.5 L1280.3,1045.8 L1280.8,1045.5 L1281.2,1045.8 L1281.7,1046.8 L1281.8,1047.2 L1281.9,1047.7 L1282.1,1048.3 L1282.2,1048.9 L1282.3,1049.6 L1282.4,1050.4 L1282.5,1051.2 L1282.7,1052.1 L1282.8,1053.0 L1282.9,1054.0 L1283.0,1055.0 L1283.1,1056.1 L1283.2,1057.2 L1283.3,1058.3 L1283.4,1059.5 L1283.5,1060.7 L1283.6,1062.0 L1283.7,1063.3 L1283.9,1064.6 L1284.0,1065.9 L1284.1,1067.2 L1284.2,1068.5 L1284.3,1069.9 L1284.4,1071.3 L1284.5,1072.6 L1284.6,1074.0 L1284.7,1075.4 L1284.8,1076.7 L1284.9,1078.1 L1285.0,1079.4 L1285.1,1080.7 L1285.1,1082.0 L1285.2,1083.3 L1285.3,1084.6 L1285.4,1085.8 L1285.5,1087.0 L1285.6,1088.2 L1285.7,1089.4 L1285.8,1090.5 L1285.9,1091.5 L1286.0,1092.5 L1286.1,1093.5 L1286.2,1094.4 L1286.3,1095.3 L1286.4,1096.1 L1286.5,1096.8 L1286.6,1097.5 L1286.6,1098.1 L1286.7,1098.7 L1286.8,1099.1 L1286.9,1099.5 L1287.0,1099.9 L1287.1,1100.1 L1287.2,1100.3 L1287.4,1100.3 L1287.5,1100.2 L1287.7,1099.8 L1287.8,1099.3 L1287.9,1098.6 L1288.1,1097.8 L1288.2,1096.8 L1288.3,1095.8 L1288.4,1094.6 L1288.6,1093.3 L1288.7,1092.0 L1288.8,1090.6 L1288.9,1089.1 L1289.1,1087.6 L1289.2,1086.0 L1289.3,1084.5 L1289.4,1082.9 L1289.5,1081.4 L1289.7,1079.8 L1289.8,1078.3 L1289.9,1076.9 L1290.1,1075.5 L1290.2,1074.1 L1290.3,1072.9 L1290.5,1071.7 L1290.6,1070.7 L1290.8,1069.8 L1290.9,1069.0 L1291.1,1068.3 L1291.2,1067.8 L1291.4,1067.5 L1291.7,1067.2 L1292.0,1067.2 L1292.3,1067.5 L1292.7,1068.0 L1293.0,1068.7 L1293.4,1069.6 L1293.7,1070.6 L1294.1,1071.8 L1294.4,1073.1 L1294.8,1074.4 L1295.2,1075.8 L1295.6,1077.2 L1296.0,1078.7 L1296.3,1080.1 L1296.8,1081.4 L1297.2,1082.7 L1297.6,1083.9 L1298.0,1084.9 L1298.4,1085.8 L1298.8,1086.9 L1299.3,1087.9 L1299.7,1089.0 L1300.2,1090.1 L1300.6,1091.2 L1301.1,1092.3 L1301.6,1093.5 L1302.0,1094.6 L1302.5,1095.6 L1303.0,1096.7 L1303.5,1097.6 L1304.0,1098.6 L1304.4,1099.4 L1304.9,1100.2 L1305.4,1100.9 L1305.8,1101.5 L1306.3,1101.9 L1306.7,1102.3 L1307.5,1102.6 L1308.3,1102.5 L1309.1,1102.1 L1309.8,1101.4 L1310.6,1100.5 L1311.3,1099.5 L1312.1,1098.5 L1312.8,1097.5 L1313.5,1096.6 L1314.3,1095.8 L1315.1,1095.1 L1315.8,1094.3 L1316.6,1093.5 L1317.4,1092.6 L1318.2,1091.8 L1318.9,1091.0 L1319.7,1090.4 L1320.5,1089.8 L1321.2,1089.5 L1321.9,1089.3 L1322.8,1089.5 L1323.6,1090.1 L1324.5,1091.1 L1325.3,1092.1 L1326.1,1093.2 L1326.9,1094.1 L1327.6,1094.6 L1328.4,1094.7 L1329.0,1094.3 L1329.5,1093.4 L1330.1,1092.2 L1330.6,1090.8 L1331.1,1089.4 L1331.6,1088.0 L1332.1,1086.9 L1332.7,1086.1 L1333.3,1085.7 L1333.9,1086.0 L1334.2,1086.4 L1334.5,1086.9 L1334.8,1087.6 L1335.2,1088.5 L1335.5,1089.4 L1335.9,1090.5 L1336.2,1091.7 L1336.6,1092.9 L1336.9,1094.1 L1337.3,1095.4 L1337.6,1096.8 L1338.0,1098.1 L1338.4,1099.3 L1338.7,1100.6 L1339.1,1101.8 L1339.4,1102.9 L1339.8,1103.9 L1340.2,1104.7 L1340.5,1105.5 L1340.8,1106.1 L1341.2,1106.5 L1341.5,1106.7 L1341.9,1106.7 L1342.4,1106.2 L1342.8,1105.4 L1343.2,1104.4 L1343.6,1103.1 L1344.0,1101.7 L1344.4,1100.2 L1344.8,1098.6 L1345.2,1097.0 L1345.6,1095.5 L1346.0,1094.2 L1346.4,1093.0 L1346.8,1092.1 L1347.2,1091.5 L1347.6,1091.2 L1348.0,1091.4 L1348.2,1091.7 L1348.4,1092.1 L1348.7,1092.7 L1348.9,1093.4 L1349.1,1094.2 L1349.3,1095.1 L1349.5,1096.1 L1349.7,1097.1 L1349.9,1098.3 L1350.2,1099.5 L1350.4,1100.7 L1350.6,1102.0 L1350.8,1103.3 L1351.0,1104.6 L1351.2,1105.9 L1351.4,1107.3 L1351.7,1108.6 L1351.9,1109.9 L1352.1,1111.1 L1352.3,1112.4 L1352.5,1113.5 L1352.8,1114.6 L1353.0,1115.7 L1353.2,1116.6 L1353.5,1117.4 L1353.7,1118.2 L1354.0,1118.8 L1354.2,1119.3 L1354.5,1119.7 L1355.1,1120.1 L1355.7,1120.0 L1356.4,1119.5 L1357.1,1118.7 L1357.8,1117.6 L1358.5,1116.3 L1359.2,1114.9 L1359.9,1113.5 L1360.6,1112.1 L1361.3,1110.9 L1362.0,1109.9 L1362.6,1109.2 L1363.2,1108.8 L1364.0,1108.8 L1364.9,1109.3 L1365.7,1110.2 L1366.5,1111.3 L1367.2,1112.4 L1367.9,1113.5 L1368.6,1114.5 L1369.2,1115.2 L1369.8,1115.4 L1370.4,1115.0 L1370.9,1114.0 L1371.3,1112.7 L1371.7,1111.2 L1372.1,1109.9 L1372.5,1109.1 L1373.0,1108.8 L1373.5,1109.2 L1374.0,1109.9 L1374.5,1110.9 L1375.1,1112.1 L1375.7,1113.4 L1376.2,1114.7 L1376.7,1115.9 L1377.1,1116.9 L1377.4,1117.6" stroke="#000" stroke-width="3.1" fill="none" stroke-linejoin="round"/>
<line x1="344" y1="1607.3" x2="344" y2="2037.8" stroke="#000" stroke-width="2.6" stroke-linecap="butt"/>
<line x1="314.8" y1="1609.1" x2="344" y2="1609.1" stroke="#000" stroke-width="2.6" stroke-linecap="butt"/>
<line x1="314.8" y1="1715.7" x2="344" y2="1715.7" stroke="#000" stroke-width="2.6" stroke-linecap="butt"/>
<line x1="314.8" y1="1822.1" x2="344" y2="1822.1" stroke="#000" stroke-width="2.6" stroke-linecap="butt"/>
<line x1="314.8" y1="1928.7" x2="344" y2="1928.7" stroke="#000" stroke-width="2.6" stroke-linecap="butt"/>
<line x1="314.8" y1="2035" x2="344" y2="2035" stroke="#000" stroke-width="2.6" stroke-linecap="butt"/>
<line x1="314.8" y1="2035" x2="643.5" y2="2035" stroke="#000" stroke-width="2.6" stroke-linecap="butt"/>
<line x1="491.3" y1="2035" x2="491.3" y2="2064.6" stroke="#000" stroke-width="2.6" stroke-linecap="butt"/>
<rect x="369.05" y="1641.95" width="42.30000000000001" height="392.29999999999995" fill="#a00000" stroke="#000" stroke-width="3.5"/>
<rect x="437.25" y="1703.95" width="42.60000000000002" height="330.79999999999995" fill="#f0ccf7" stroke="#7b1fa2" stroke-width="2.5"/>
<rect x="505.25" y="1827.65" width="42.89999999999998" height="207.0999999999999" fill="#dd8cf6" stroke="#7b1fa2" stroke-width="2.5"/>
<rect x="573.65" y="1920.25" width="42.60000000000002" height="114.5" fill="#b553db" stroke="#7b1fa2" stroke-width="2.5"/>
<circle cx="374" cy="1630.3" r="6.4" fill="#f01010" stroke="none" stroke-width="0"/>
<circle cx="405.9" cy="1639" r="6.4" fill="#f01010" stroke="none" stroke-width="0"/>
<circle cx="374" cy="1651.2" r="6.4" fill="#f01010" stroke="none" stroke-width="0"/>
<line x1="389.8" y1="1629.5" x2="389.8" y2="1650" stroke="#f01010" stroke-width="2.6" stroke-linecap="butt"/>
<line x1="380.3" y1="1629.5" x2="399.3" y2="1629.5" stroke="#f01010" stroke-width="2.6" stroke-linecap="butt"/>
<line x1="380.3" y1="1650" x2="399.3" y2="1650" stroke="#f01010" stroke-width="2.6" stroke-linecap="butt"/>
<circle cx="458.1" cy="1681.8" r="6.4" fill="#7b1fa2" stroke="none" stroke-width="0"/>
<circle cx="442.8" cy="1713.2" r="6.4" fill="#7b1fa2" stroke="none" stroke-width="0"/>
<circle cx="474.7" cy="1711.9" r="6.4" fill="#7b1fa2" stroke="none" stroke-width="0"/>
<line x1="458.1" y1="1684.9" x2="458.1" y2="1719.6" stroke="#7b1fa2" stroke-width="2.6" stroke-linecap="butt"/>
<line x1="446.1" y1="1684.9" x2="470.1" y2="1684.9" stroke="#7b1fa2" stroke-width="2.6" stroke-linecap="butt"/>
<line x1="446.1" y1="1719.6" x2="470.1" y2="1719.6" stroke="#7b1fa2" stroke-width="2.6" stroke-linecap="butt"/>
<circle cx="525.7" cy="1817.8" r="6.4" fill="#7b1fa2" stroke="none" stroke-width="0"/>
<circle cx="541.8" cy="1824.1" r="6.4" fill="#7b1fa2" stroke="none" stroke-width="0"/>
<circle cx="511.2" cy="1834.3" r="6.4" fill="#7b1fa2" stroke="none" stroke-width="0"/>
<line x1="525.7" y1="1817.8" x2="525.7" y2="1831" stroke="#7b1fa2" stroke-width="2.6" stroke-linecap="butt"/>
<line x1="513.7" y1="1817.8" x2="537.7" y2="1817.8" stroke="#7b1fa2" stroke-width="2.6" stroke-linecap="butt"/>
<line x1="513.7" y1="1831" x2="537.7" y2="1831" stroke="#7b1fa2" stroke-width="2.6" stroke-linecap="butt"/>
<circle cx="594.6" cy="1907.6" r="6.4" fill="#7b1fa2" stroke="none" stroke-width="0"/>
<circle cx="579.3" cy="1922.9" r="6.4" fill="#7b1fa2" stroke="none" stroke-width="0"/>
<circle cx="610.7" cy="1922.9" r="6.4" fill="#7b1fa2" stroke="none" stroke-width="0"/>
<line x1="594.6" y1="1909.6" x2="594.6" y2="1924" stroke="#7b1fa2" stroke-width="2.6" stroke-linecap="butt"/>
<line x1="582.6" y1="1909.6" x2="606.6" y2="1909.6" stroke="#7b1fa2" stroke-width="2.6" stroke-linecap="butt"/>
<line x1="582.6" y1="1924" x2="606.6" y2="1924" stroke="#7b1fa2" stroke-width="2.6" stroke-linecap="butt"/>
<path d="M389.7,1589.7 V1575.3 H458.1 V1641.3" stroke="#000" stroke-width="2.9" fill="none" />
<path d="M389.7,1490.5 V1473.2 H526 V1778.2" stroke="#000" stroke-width="2.9" fill="none" />
<path d="M389.7,1388 V1375.5 H594.5 V1867.5" stroke="#000" stroke-width="2.9" fill="none" />
<path d="M448.3,1326.15 V1346.85 M439.33663707083105,1331.325 L457.263362929169,1341.675 M439.33663707083105,1341.675 L457.263362929169,1331.325" stroke="#000" stroke-width="4.1" fill="none"/>
<path d="M476.1,1326.15 V1346.85 M467.13663707083106,1331.325 L485.063362929169,1341.675 M467.13663707083106,1341.675 L485.063362929169,1331.325" stroke="#000" stroke-width="4.1" fill="none"/>
<path d="M503.8,1326.15 V1346.85 M494.83663707083105,1331.325 L512.7633629291689,1341.675 M494.83663707083105,1341.675 L512.7633629291689,1331.325" stroke="#000" stroke-width="4.1" fill="none"/>
<path d="M531.5,1326.15 V1346.85 M522.536637070831,1331.325 L540.463362929169,1341.675 M522.536637070831,1341.675 L540.463362929169,1331.325" stroke="#000" stroke-width="4.1" fill="none"/>
<path d="M413.3,1424.0 V1444.4 M404.4665408813987,1429.1000000000001 L422.1334591186013,1439.3 M404.4665408813987,1439.3 L422.1334591186013,1429.1000000000001" stroke="#000" stroke-width="4.1" fill="none"/>
<path d="M441,1424.0 V1444.4 M432.1665408813987,1429.1000000000001 L449.8334591186013,1439.3 M432.1665408813987,1439.3 L449.8334591186013,1429.1000000000001" stroke="#000" stroke-width="4.1" fill="none"/>
<path d="M468.7,1424.0 V1444.4 M459.8665408813987,1429.1000000000001 L477.5334591186013,1439.3 M459.8665408813987,1439.3 L477.5334591186013,1429.1000000000001" stroke="#000" stroke-width="4.1" fill="none"/>
<path d="M496.4,1424.0 V1444.4 M487.5665408813987,1429.1000000000001 L505.2334591186013,1439.3 M487.5665408813987,1439.3 L505.2334591186013,1429.1000000000001" stroke="#000" stroke-width="4.1" fill="none"/>
<path d="M394.1,1526.0500000000002 V1547.75 M384.70362436893885,1531.4750000000001 L403.4963756310612,1542.325 M384.70362436893885,1542.325 L403.4963756310612,1531.4750000000001" stroke="#000" stroke-width="4.1" fill="none"/>
<path d="M421.8,1526.0500000000002 V1547.75 M412.40362436893884,1531.4750000000001 L431.1963756310612,1542.325 M412.40362436893884,1542.325 L431.1963756310612,1531.4750000000001" stroke="#000" stroke-width="4.1" fill="none"/>
<path d="M449.5,1526.0500000000002 V1547.75 M440.1036243689388,1531.4750000000001 L458.8963756310612,1542.325 M440.1036243689388,1542.325 L458.8963756310612,1531.4750000000001" stroke="#000" stroke-width="4.1" fill="none"/>
<line x1="937.5" y1="1601.5" x2="937.5" y2="2030.4" stroke="#000" stroke-width="2.6" stroke-linecap="butt"/>
<line x1="908.4" y1="1602.4" x2="937.5" y2="1602.4" stroke="#000" stroke-width="2.6" stroke-linecap="butt"/>
<line x1="908.4" y1="1687.3" x2="937.5" y2="1687.3" stroke="#000" stroke-width="2.6" stroke-linecap="butt"/>
<line x1="908.4" y1="1773.1" x2="937.5" y2="1773.1" stroke="#000" stroke-width="2.6" stroke-linecap="butt"/>
<line x1="908.4" y1="1858" x2="937.5" y2="1858" stroke="#000" stroke-width="2.6" stroke-linecap="butt"/>
<line x1="908.4" y1="1942.9" x2="937.5" y2="1942.9" stroke="#000" stroke-width="2.6" stroke-linecap="butt"/>
<line x1="908.4" y1="2027.9" x2="937.5" y2="2027.9" stroke="#000" stroke-width="2.6" stroke-linecap="butt"/>
<line x1="908.4" y1="2027.9" x2="1236.5" y2="2027.9" stroke="#000" stroke-width="2.6" stroke-linecap="butt"/>
<line x1="1084.8" y1="2027.9" x2="1084.8" y2="2056.5" stroke="#000" stroke-width="2.6" stroke-linecap="butt"/>
<rect x="963.6" y="1695.3" width="40.90000000000002" height="332.09999999999997" fill="#a00000" stroke="#000" stroke-width="3.2"/>
<rect x="1031.25" y="1732.25" width="42.0" height="295.5" fill="#f0ccf7" stroke="#7b1fa2" stroke-width="2.5"/>
<rect x="1098.65" y="1780.95" width="42.09999999999991" height="246.79999999999995" fill="#dd8cf6" stroke="#7b1fa2" stroke-width="2.5"/>
<rect x="1167.15" y="1906.95" width="41.59999999999991" height="120.79999999999995" fill="#b553db" stroke="#7b1fa2" stroke-width="2.5"/>
<circle cx="982.7" cy="1645.6" r="6.4" fill="#f01010" stroke="none" stroke-width="0"/>
<circle cx="967.8" cy="1719.8" r="6.4" fill="#f01010" stroke="none" stroke-width="0"/>
<circle cx="998" cy="1710" r="6.4" fill="#f01010" stroke="none" stroke-width="0"/>
<line x1="982.7" y1="1652.3" x2="982.7" y2="1731" stroke="#f01010" stroke-width="2.6" stroke-linecap="butt"/>
<line x1="970.3000000000001" y1="1652.3" x2="995.1" y2="1652.3" stroke="#f01010" stroke-width="2.6" stroke-linecap="butt"/>
<line x1="970.3000000000001" y1="1731" x2="995.1" y2="1731" stroke="#f01010" stroke-width="2.6" stroke-linecap="butt"/>
<circle cx="1052" cy="1691.5" r="6.4" fill="#7b1fa2" stroke="none" stroke-width="0"/>
<circle cx="1036.7" cy="1753.6" r="6.4" fill="#7b1fa2" stroke="none" stroke-width="0"/>
<circle cx="1066.8" cy="1742.3" r="6.4" fill="#7b1fa2" stroke="none" stroke-width="0"/>
<line x1="1052" y1="1698.2" x2="1052" y2="1763.5" stroke="#7b1fa2" stroke-width="2.6" stroke-linecap="butt"/>
<line x1="1040" y1="1698.2" x2="1064" y2="1698.2" stroke="#7b1fa2" stroke-width="2.6" stroke-linecap="butt"/>
<line x1="1040" y1="1763.5" x2="1064" y2="1763.5" stroke="#7b1fa2" stroke-width="2.6" stroke-linecap="butt"/>
<circle cx="1104.2" cy="1759.4" r="6.4" fill="#7b1fa2" stroke="none" stroke-width="0"/>
<circle cx="1134.3" cy="1767.1" r="6.4" fill="#7b1fa2" stroke="none" stroke-width="0"/>
<circle cx="1118.6" cy="1808.5" r="6.4" fill="#7b1fa2" stroke="none" stroke-width="0"/>
<line x1="1119.6" y1="1752.7" x2="1119.6" y2="1803.1" stroke="#7b1fa2" stroke-width="2.6" stroke-linecap="butt"/>
<line x1="1107.6" y1="1752.7" x2="1131.6" y2="1752.7" stroke="#7b1fa2" stroke-width="2.6" stroke-linecap="butt"/>
<line x1="1107.6" y1="1803.1" x2="1131.6" y2="1803.1" stroke="#7b1fa2" stroke-width="2.6" stroke-linecap="butt"/>
<circle cx="1188.4" cy="1890.9" r="6.4" fill="#7b1fa2" stroke="none" stroke-width="0"/>
<circle cx="1172.6" cy="1915.6" r="6.4" fill="#7b1fa2" stroke="none" stroke-width="0"/>
<circle cx="1204.1" cy="1906.6" r="6.4" fill="#7b1fa2" stroke="none" stroke-width="0"/>
<line x1="1188" y1="1891.8" x2="1188" y2="1917.9" stroke="#7b1fa2" stroke-width="2.6" stroke-linecap="butt"/>
<line x1="1176" y1="1891.8" x2="1200" y2="1891.8" stroke="#7b1fa2" stroke-width="2.6" stroke-linecap="butt"/>
<line x1="1176" y1="1917.9" x2="1200" y2="1917.9" stroke="#7b1fa2" stroke-width="2.6" stroke-linecap="butt"/>
<path d="M982.7,1605 V1590.6 H1120 V1712.2" stroke="#000" stroke-width="2.9" fill="none" />
<path d="M982.7,1551 V1511.9 H1188.4 V1850.4" stroke="#000" stroke-width="2.9" fill="none" />
<path d="M1041.9,1464.5 V1484.5 M1033.2397459621557,1469.5 L1050.5602540378445,1479.5 M1033.2397459621557,1479.5 L1050.5602540378445,1469.5" stroke="#000" stroke-width="4.1" fill="none"/>
<path d="M1069.6,1464.5 V1484.5 M1060.9397459621555,1469.5 L1078.2602540378443,1479.5 M1060.9397459621555,1479.5 L1078.2602540378443,1469.5" stroke="#000" stroke-width="4.1" fill="none"/>
<path d="M1097.3,1464.5 V1484.5 M1088.6397459621555,1469.5 L1105.9602540378444,1479.5 M1088.6397459621555,1479.5 L1105.9602540378444,1469.5" stroke="#000" stroke-width="4.1" fill="none"/>
<path d="M1125,1464.5 V1484.5 M1116.3397459621556,1469.5 L1133.6602540378444,1479.5 M1116.3397459621556,1479.5 L1133.6602540378444,1469.5" stroke="#000" stroke-width="4.1" fill="none"/>
<path d="M1049.9,1544.25 V1563.5500000000002 M1041.5428548534803,1549.075 L1058.2571451465199,1558.7250000000001 M1041.5428548534803,1558.7250000000001 L1058.2571451465199,1549.075" stroke="#000" stroke-width="4.1" fill="none"/>
<defs><linearGradient id="gb" x1="0" x2="1" y1="0" y2="0"><stop offset="0" stop-color="#2a2ad0"/><stop offset="0.5" stop-color="#5050f0"/><stop offset="1" stop-color="#2a2ac8"/></linearGradient><linearGradient id="gbb" x1="0" x2="1"><stop offset="0" stop-color="#10108a"/><stop offset="1" stop-color="#2626b0"/></linearGradient><linearGradient id="gg" x1="0" x2="1"><stop offset="0" stop-color="#5a5a5a"/><stop offset="0.5" stop-color="#8a8a8a"/><stop offset="1" stop-color="#606060"/></linearGradient><linearGradient id="ggb" x1="0" x2="1"><stop offset="0" stop-color="#2e2e2e"/><stop offset="1" stop-color="#4a4a4a"/></linearGradient></defs>
<path d="M260.5,2361.6 C265,2357 268,2359 271,2368 C273,2375 275,2377.6 280,2377.6" stroke="#000" stroke-width="2.3" fill="none" />
<path d="M366,2377.6 C372,2377.6 373,2372 374,2367 C375,2362 376,2361.2 380,2361.2 L636,2361.2 C641,2361.2 642,2364 643,2369 C644,2375 646,2377.4 650,2377.4" stroke="#000" stroke-width="2.3" fill="none" />
<path d="M707,2377.6 C711,2377.6 712,2373 713,2367 C714,2362 715,2361.2 718,2361.2 L732,2361.2 C736,2361.2 737,2364 738,2369 C739,2375 741,2377.6 746,2377.6" stroke="#000" stroke-width="2.3" fill="none" />
<path d="M805,2377.6 C809,2377.6 810,2373 811,2367 C812,2362 813,2361.2 816,2361.2 L820,2361.2 C824,2361.2 825,2364 826,2369 C827,2375 829,2377.6 833,2377.6" stroke="#000" stroke-width="2.3" fill="none" />
<path d="M863,2377.6 C867,2377.6 868,2372 869,2367 C870,2362 871,2361.2 873,2361.2" stroke="#000" stroke-width="2.3" fill="none" />
<path d="M962,2361 C966,2361 967,2364 968,2369 C969,2375 972,2377.6 983,2377.6" stroke="#000" stroke-width="2.3" fill="none" />
<path d="M1097,2377.6 C1101,2377.6 1101.5,2372 1102,2368 C1103,2363 1105,2362 1108,2364.5 C1111,2367 1113,2366 1116.6,2364" stroke="#000" stroke-width="2.3" fill="none" />
<path d="M279.0,2377.6 L287.6,2377.6 L293.8,2344.8 L291.0,2344.8 Q289.0,2344.8 288.2,2347.3 Z" fill="url(#gbb)" stroke="#000" stroke-width="1.1" stroke-linejoin="round"/>
<path d="M307.0,2377.6 L315.6,2377.6 L321.8,2344.8 L319.0,2344.8 Q317.0,2344.8 316.2,2347.3 Z" fill="url(#gbb)" stroke="#000" stroke-width="1.1" stroke-linejoin="round"/>
<path d="M335.0,2377.6 L343.6,2377.6 L349.8,2344.8 L347.0,2344.8 Q345.0,2344.8 344.2,2347.3 Z" fill="url(#gbb)" stroke="#000" stroke-width="1.1" stroke-linejoin="round"/>
<path d="M293.8,2344.8 L299.5,2344.8 Q301.8,2344.8 302.6,2347.3 L312.0,2377.6 L302.5,2377.6 Z" fill="url(#gb)" stroke="#000" stroke-width="1.1" stroke-linejoin="round"/>
<path d="M321.8,2344.8 L327.5,2344.8 Q329.8,2344.8 330.6,2347.3 L340.0,2377.6 L330.5,2377.6 Z" fill="url(#gb)" stroke="#000" stroke-width="1.1" stroke-linejoin="round"/>
<path d="M349.8,2344.8 L355.5,2344.8 Q357.8,2344.8 358.6,2347.3 L368.0,2377.6 L358.5,2377.6 Z" fill="url(#gb)" stroke="#000" stroke-width="1.1" stroke-linejoin="round"/>
<path d="M648.0,2377.6 L656.6,2377.6 L662.8,2344.8 L660.0,2344.8 Q658.0,2344.8 657.2,2347.3 Z" fill="url(#ggb)" stroke="#000" stroke-width="1.1" stroke-linejoin="round"/>
<path d="M676.3,2377.6 L684.9,2377.6 L691.1,2344.8 L688.3,2344.8 Q686.3,2344.8 685.5,2347.3 Z" fill="url(#ggb)" stroke="#000" stroke-width="1.1" stroke-linejoin="round"/>
<path d="M662.8,2344.8 L668.5,2344.8 Q670.8,2344.8 671.6,2347.3 L681.0,2377.6 L671.5,2377.6 Z" fill="url(#gg)" stroke="#000" stroke-width="1.1" stroke-linejoin="round"/>
<path d="M691.1,2344.8 L696.8,2344.8 Q699.1,2344.8 699.9,2347.3 L709.3,2377.6 L699.8,2377.6 Z" fill="url(#gg)" stroke="#000" stroke-width="1.1" stroke-linejoin="round"/>
<path d="M744.5,2377.6 L753.1,2377.6 L759.3,2344.8 L756.5,2344.8 Q754.5,2344.8 753.7,2347.3 Z" fill="url(#ggb)" stroke="#000" stroke-width="1.1" stroke-linejoin="round"/>
<path d="M773.5,2377.6 L782.1,2377.6 L788.3,2344.8 L785.5,2344.8 Q783.5,2344.8 782.7,2347.3 Z" fill="url(#ggb)" stroke="#000" stroke-width="1.1" stroke-linejoin="round"/>
<path d="M759.3,2344.8 L765.0,2344.8 Q767.3,2344.8 768.1,2347.3 L777.5,2377.6 L768.0,2377.6 Z" fill="url(#gg)" stroke="#000" stroke-width="1.1" stroke-linejoin="round"/>
<path d="M788.3,2344.8 L794.0,2344.8 Q796.3,2344.8 797.1,2347.3 L806.5,2377.6 L797.0,2377.6 Z" fill="url(#gg)" stroke="#000" stroke-width="1.1" stroke-linejoin="round"/>
<path d="M831.5,2377.6 L840.1,2377.6 L846.3,2344.8 L843.5,2344.8 Q841.5,2344.8 840.7,2347.3 Z" fill="url(#ggb)" stroke="#000" stroke-width="1.1" stroke-linejoin="round"/>
<path d="M846.3,2344.8 L852.0,2344.8 Q854.3,2344.8 855.1,2347.3 L864.5,2377.6 L855.0,2377.6 Z" fill="url(#gg)" stroke="#000" stroke-width="1.1" stroke-linejoin="round"/>
<path d="M982.1,2377.6 L990.7,2377.6 L996.9,2344.8 L994.1,2344.8 Q992.1,2344.8 991.3,2347.3 Z" fill="url(#gbb)" stroke="#000" stroke-width="1.1" stroke-linejoin="round"/>
<path d="M1009.1,2377.6 L1017.7,2377.6 L1023.9,2344.8 L1021.1,2344.8 Q1019.1,2344.8 1018.3,2347.3 Z" fill="url(#gbb)" stroke="#000" stroke-width="1.1" stroke-linejoin="round"/>
<path d="M1037.2,2377.6 L1045.8,2377.6 L1052.0,2344.8 L1049.2,2344.8 Q1047.2,2344.8 1046.4,2347.3 Z" fill="url(#gbb)" stroke="#000" stroke-width="1.1" stroke-linejoin="round"/>
<path d="M1066.5,2377.6 L1075.1,2377.6 L1081.3,2344.8 L1078.5,2344.8 Q1076.5,2344.8 1075.7,2347.3 Z" fill="url(#gbb)" stroke="#000" stroke-width="1.1" stroke-linejoin="round"/>
<path d="M996.9,2344.8 L1002.6,2344.8 Q1004.9,2344.8 1005.7,2347.3 L1015.1,2377.6 L1005.6,2377.6 Z" fill="url(#gb)" stroke="#000" stroke-width="1.1" stroke-linejoin="round"/>
<path d="M1023.9,2344.8 L1029.6,2344.8 Q1031.9,2344.8 1032.7,2347.3 L1042.1,2377.6 L1032.6,2377.6 Z" fill="url(#gb)" stroke="#000" stroke-width="1.1" stroke-linejoin="round"/>
<path d="M1052.0,2344.8 L1057.7,2344.8 Q1060.0,2344.8 1060.8,2347.3 L1070.2,2377.6 L1060.7,2377.6 Z" fill="url(#gb)" stroke="#000" stroke-width="1.1" stroke-linejoin="round"/>
<path d="M1081.3,2344.8 L1087.0,2344.8 Q1089.3,2344.8 1090.1,2347.3 L1099.5,2377.6 L1090.0,2377.6 Z" fill="url(#gb)" stroke="#000" stroke-width="1.1" stroke-linejoin="round"/>
<line x1="871.3" y1="2360.6" x2="963.5" y2="2360.6" stroke="#b01515" stroke-width="3.4" stroke-linecap="butt"/>
<line x1="874.6" y1="2359" x2="874.6" y2="2375.3" stroke="#b01515" stroke-width="3.4" stroke-linecap="butt"/>
<line x1="960.2" y1="2359" x2="960.2" y2="2375.3" stroke="#b01515" stroke-width="3.4" stroke-linecap="butt"/>
<rect x="251.3" y="2403.2" width="865.6000000000001" height="248.4000000000001" fill="none" stroke="#3a3a3a" stroke-width="2.3"/>
<line x1="412.0" y1="2651.6" x2="412.0" y2="2642.2" stroke="#3a3a3a" stroke-width="1.7" stroke-linecap="butt"/>
<line x1="412.0" y1="2403.2" x2="412.0" y2="2412.6" stroke="#3a3a3a" stroke-width="1.7" stroke-linecap="butt"/>
<line x1="582.1" y1="2651.6" x2="582.1" y2="2642.2" stroke="#3a3a3a" stroke-width="1.7" stroke-linecap="butt"/>
<line x1="582.1" y1="2403.2" x2="582.1" y2="2412.6" stroke="#3a3a3a" stroke-width="1.7" stroke-linecap="butt"/>
<line x1="752.2" y1="2651.6" x2="752.2" y2="2642.2" stroke="#3a3a3a" stroke-width="1.7" stroke-linecap="butt"/>
<line x1="752.2" y1="2403.2" x2="752.2" y2="2412.6" stroke="#3a3a3a" stroke-width="1.7" stroke-linecap="butt"/>
<line x1="922.3000000000001" y1="2651.6" x2="922.3000000000001" y2="2642.2" stroke="#3a3a3a" stroke-width="1.7" stroke-linecap="butt"/>
<line x1="922.3000000000001" y1="2403.2" x2="922.3000000000001" y2="2412.6" stroke="#3a3a3a" stroke-width="1.7" stroke-linecap="butt"/>
<line x1="1092.4" y1="2651.6" x2="1092.4" y2="2642.2" stroke="#3a3a3a" stroke-width="1.7" stroke-linecap="butt"/>
<line x1="1092.4" y1="2403.2" x2="1092.4" y2="2412.6" stroke="#3a3a3a" stroke-width="1.7" stroke-linecap="butt"/>
<line x1="251.3" y1="2651.6" x2="261.4" y2="2651.6" stroke="#3a3a3a" stroke-width="3.4" stroke-linecap="butt"/>
<line x1="1106.8" y1="2651.6" x2="1116.9" y2="2651.6" stroke="#3a3a3a" stroke-width="3.4" stroke-linecap="butt"/>
<line x1="251.3" y1="2543.45" x2="261.4" y2="2543.45" stroke="#3a3a3a" stroke-width="3.4" stroke-linecap="butt"/>
<line x1="1106.8" y1="2543.45" x2="1116.9" y2="2543.45" stroke="#3a3a3a" stroke-width="3.4" stroke-linecap="butt"/>
<line x1="251.3" y1="2435.2999999999997" x2="261.4" y2="2435.2999999999997" stroke="#3a3a3a" stroke-width="3.4" stroke-linecap="butt"/>
<line x1="1106.8" y1="2435.2999999999997" x2="1116.9" y2="2435.2999999999997" stroke="#3a3a3a" stroke-width="3.4" stroke-linecap="butt"/>
<clipPath id="pc"><rect x="250" y="2400" width="867.5" height="260"/></clipPath><g clip-path="url(#pc)">
<circle cx="480.04" cy="2573.0831" r="7.2" fill="none" stroke="#000" stroke-width="2.5"/>
<circle cx="480.04" cy="2550.3716" r="8.4" fill="#000" stroke="none" stroke-width="0"/>
<path d="M480.0,2555.2 L487.6,2566.2 L480.0,2577.2 L472.4,2566.2 Z" fill="none" stroke="#d95319" stroke-width="2.2"/>
<path d="M480.0,2547.6 L487.6,2558.6 L480.0,2569.6 L472.4,2558.6 Z" fill="#d95319"/>
<path d="M480.0,2554.1 L487.6,2565.1 L480.0,2576.1 L472.4,2565.1 Z" fill="#d95319"/>
<circle cx="480.04" cy="2521.8199999999997" r="8.4" fill="#0000ff" stroke="none" stroke-width="0"/>
<circle cx="480.04" cy="2526.5786" r="8.4" fill="#0000ff" stroke="none" stroke-width="0"/>
<circle cx="582.1" cy="2575.895" r="7.2" fill="none" stroke="#000" stroke-width="2.5"/>
<circle cx="582.1" cy="2574.3809" r="8.4" fill="#000" stroke="none" stroke-width="0"/>
<path d="M582.1,2554.1 L589.7,2565.1 L582.1,2576.1 L574.5,2565.1 Z" fill="none" stroke="#d95319" stroke-width="2.2"/>
<path d="M582.1,2547.2 L589.7,2558.2 L582.1,2569.2 L574.5,2558.2 Z" fill="#d95319"/>
<path d="M582.1,2553.0 L589.7,2564.0 L582.1,2575.0 L574.5,2564.0 Z" fill="#d95319"/>
<line x1="582.1" y1="2540.2055" x2="582.1" y2="2527.2275" stroke="#0000ff" stroke-width="2.0" stroke-linecap="butt"/>
<line x1="578.9" y1="2540.2055" x2="585.3000000000001" y2="2540.2055" stroke="#0000ff" stroke-width="2.8" stroke-linecap="butt"/>
<line x1="578.9" y1="2527.2275" x2="585.3000000000001" y2="2527.2275" stroke="#0000ff" stroke-width="2.8" stroke-linecap="butt"/>
<circle cx="582.1" cy="2533.5002" r="7.2" fill="none" stroke="#0000ff" stroke-width="2.5"/>
<circle cx="582.1" cy="2506.679" r="8.4" fill="#0000ff" stroke="none" stroke-width="0"/>
<line x1="658.645" y1="2451.0899" x2="658.645" y2="2417.5634" stroke="#000" stroke-width="2.3" stroke-linecap="butt"/>
<line x1="655.4449999999999" y1="2451.0899" x2="661.845" y2="2451.0899" stroke="#000" stroke-width="2.8" stroke-linecap="butt"/>
<line x1="655.4449999999999" y1="2417.5634" x2="661.845" y2="2417.5634" stroke="#000" stroke-width="2.8" stroke-linecap="butt"/>
<circle cx="658.645" cy="2434.0022" r="8.4" fill="#000" stroke="none" stroke-width="0"/>
<line x1="658.645" y1="2456.93" x2="658.645" y2="2419.0775" stroke="#d95319" stroke-width="2.3" stroke-linecap="butt"/>
<line x1="655.4449999999999" y1="2456.93" x2="661.845" y2="2456.93" stroke="#d95319" stroke-width="2.8" stroke-linecap="butt"/>
<line x1="655.4449999999999" y1="2419.0775" x2="661.845" y2="2419.0775" stroke="#d95319" stroke-width="2.8" stroke-linecap="butt"/>
<path d="M658.6,2422.9 L666.4,2435.9 L658.6,2448.9 L650.8,2435.9 Z" fill="#d95319"/>
<circle cx="658.645" cy="2438.7608" r="8.4" fill="#0000ff" stroke="none" stroke-width="0"/>
<line x1="777.715" y1="2543.45" x2="777.715" y2="2531.5535" stroke="#000" stroke-width="2.3" stroke-linecap="butt"/>
<line x1="774.515" y1="2543.45" x2="780.9150000000001" y2="2543.45" stroke="#000" stroke-width="2.8" stroke-linecap="butt"/>
<line x1="774.515" y1="2531.5535" x2="780.9150000000001" y2="2531.5535" stroke="#000" stroke-width="2.8" stroke-linecap="butt"/>
<circle cx="777.715" cy="2539.124" r="8.4" fill="#000" stroke="none" stroke-width="0"/>
<circle cx="777.715" cy="2552.9672" r="7.2" fill="none" stroke="#000" stroke-width="2.5"/>
<path d="M777.7,2544.3 L785.3,2555.3 L777.7,2566.3 L770.1,2555.3 Z" fill="none" stroke="#d95319" stroke-width="2.2"/>
<path d="M777.7,2545.6 L785.3,2558.6 L777.7,2571.6 L770.1,2558.6 Z" fill="#d95319"/>
<line x1="777.715" y1="2478.3437" x2="777.715" y2="2458.4440999999997" stroke="#0000ff" stroke-width="2.0" stroke-linecap="butt"/>
<line x1="774.515" y1="2478.3437" x2="780.9150000000001" y2="2478.3437" stroke="#0000ff" stroke-width="2.8" stroke-linecap="butt"/>
<line x1="774.515" y1="2458.4440999999997" x2="780.9150000000001" y2="2458.4440999999997" stroke="#0000ff" stroke-width="2.8" stroke-linecap="butt"/>
<circle cx="777.715" cy="2468.3939" r="8.4" fill="#0000ff" stroke="none" stroke-width="0"/>
<circle cx="905.29" cy="2448.278" r="8.4" fill="#000" stroke="none" stroke-width="0"/>
<circle cx="905.29" cy="2452.604" r="7.2" fill="none" stroke="#000" stroke-width="2.5"/>
<line x1="905.29" y1="2477.6947999999998" x2="905.29" y2="2450.441" stroke="#d95319" stroke-width="2.3" stroke-linecap="butt"/>
<line x1="902.0899999999999" y1="2477.6947999999998" x2="908.49" y2="2477.6947999999998" stroke="#d95319" stroke-width="2.8" stroke-linecap="butt"/>
<line x1="902.0899999999999" y1="2450.441" x2="908.49" y2="2450.441" stroke="#d95319" stroke-width="2.8" stroke-linecap="butt"/>
<path d="M905.3,2445.0 L912.9,2458.0 L905.3,2471.0 L897.7,2458.0 Z" fill="#d95319"/>
<line x1="905.29" y1="2439.6259999999997" x2="905.29" y2="2421.8894" stroke="#0000ff" stroke-width="2.0" stroke-linecap="butt"/>
<line x1="902.0899999999999" y1="2439.6259999999997" x2="908.49" y2="2439.6259999999997" stroke="#0000ff" stroke-width="2.8" stroke-linecap="butt"/>
<line x1="902.0899999999999" y1="2421.8894" x2="908.49" y2="2421.8894" stroke="#0000ff" stroke-width="2.8" stroke-linecap="butt"/>
<circle cx="905.29" cy="2435.2999999999997" r="8.4" fill="#0000ff" stroke="none" stroke-width="0"/>
<circle cx="1109.41" cy="2538.0425" r="8.4" fill="#000" stroke="none" stroke-width="0"/>
<circle cx="1109.41" cy="2531.9861" r="8.4" fill="#000" stroke="none" stroke-width="0"/>
<line x1="1109.41" y1="2530.9046" x2="1109.41" y2="2489.375" stroke="#d95319" stroke-width="2.3" stroke-linecap="butt"/>
<line x1="1106.21" y1="2530.9046" x2="1112.6100000000001" y2="2530.9046" stroke="#d95319" stroke-width="2.8" stroke-linecap="butt"/>
<line x1="1106.21" y1="2489.375" x2="1112.6100000000001" y2="2489.375" stroke="#d95319" stroke-width="2.8" stroke-linecap="butt"/>
<path d="M1109.4,2492.0 L1117.0,2503.0 L1109.4,2514.0 L1101.8,2503.0 Z" fill="none" stroke="#d95319" stroke-width="2.2"/>
<path d="M1109.4,2507.1 L1117.0,2518.1 L1109.4,2529.1 L1101.8,2518.1 Z" fill="#d95319"/>
<circle cx="1109.41" cy="2507.5442" r="8.4" fill="#0000ff" stroke="none" stroke-width="0"/>
<line x1="1109.41" y1="2478.9926" x2="1109.41" y2="2457.1463" stroke="#0000ff" stroke-width="2.0" stroke-linecap="butt"/>
<line x1="1106.21" y1="2478.9926" x2="1112.6100000000001" y2="2478.9926" stroke="#0000ff" stroke-width="2.8" stroke-linecap="butt"/>
<line x1="1106.21" y1="2457.1463" x2="1112.6100000000001" y2="2457.1463" stroke="#0000ff" stroke-width="2.8" stroke-linecap="butt"/>
<circle cx="1109.41" cy="2468.3939" r="7.2" fill="none" stroke="#0000ff" stroke-width="2.5"/>
</g>
<line x1="1116.9" y1="2402" x2="1116.9" y2="2652.8" stroke="#3a3a3a" stroke-width="2.4" stroke-linecap="butt"/>
<circle cx="1166.4" cy="2405.6" r="8.7" fill="#0000ff" stroke="none" stroke-width="0"/>
<circle cx="1166.4" cy="2436" r="7.8" fill="none" stroke="#0000ff" stroke-width="2.4"/>
<circle cx="1166.4" cy="2467" r="8.7" fill="#000" stroke="none" stroke-width="0"/>
<circle cx="1166.4" cy="2496.2" r="7.2" fill="none" stroke="#000" stroke-width="2.4"/>
<path d="M1166.4,2516.8 L1173.9,2526.4 L1166.4,2536.0 L1158.9,2526.4 Z" fill="#d95319"/>
<path d="M1166.4,2546.6 L1173.9,2556.2 L1166.4,2565.7999999999997 L1158.9,2556.2 Z" fill="none" stroke="#d95319" stroke-width="2.2"/>
<g transform="translate(-5.09,37.33) scale(1.0388,1.0388)"><text x="0" y="0" font-family="Liberation Sans" font-weight="bold" font-style="normal" font-size="50" fill="#000">a</text></g>
<g transform="translate(150.85,78.58) scale(1.0259,1.0916)"><text x="0" y="0" font-family="Liberation Sans" font-weight="normal" font-style="normal" font-size="28" fill="#000" stroke="#000" stroke-width="0.4">0.008</text></g>
<g transform="translate(150.85,183.95) scale(1.0259,1.0916)"><text x="0" y="0" font-family="Liberation Sans" font-weight="normal" font-style="normal" font-size="28" fill="#000" stroke="#000" stroke-width="0.4">0.006</text></g>
<g transform="translate(150.82,288.59) scale(1.0177,1.0958)"><text x="0" y="0" font-family="Liberation Sans" font-weight="normal" font-style="normal" font-size="28" fill="#000" stroke="#000" stroke-width="0.4">0.004</text></g>
<g transform="translate(150.99,394.07) scale(1.0230,1.0670)"><text x="0" y="0" font-family="Liberation Sans" font-weight="normal" font-style="normal" font-size="28" fill="#000" stroke="#000" stroke-width="0.4">0.002</text></g>
<g transform="translate(150.99,499.22) scale(1.0230,1.0670)"><text x="0" y="0" font-family="Liberation Sans" font-weight="normal" font-style="normal" font-size="28" fill="#000" stroke="#000" stroke-width="0.4">0.000</text></g>
<g transform="translate(105.22,380.02) scale(1.0834,1.0090)"><text x="0" y="0" transform="rotate(-90)" font-family="Liberation Sans" font-weight="normal" font-style="normal" font-size="28" fill="#000" stroke="#000" stroke-width="0.4">Δ Absorbance at</text></g>
<g transform="translate(135.94,394.11) scale(0.9634,1.0261)"><text x="0" y="0" transform="rotate(-90)" font-family="Liberation Sans" font-weight="normal" font-style="normal" font-size="28" fill="#000" stroke="#000" stroke-width="0.4">(620 nm - 675 nm)</text></g>
<g transform="translate(267.44,528.28) scale(1.0376,0.9983)"><text x="0" y="0" font-family="Liberation Sans" font-weight="normal" font-style="normal" font-size="28" fill="#000" stroke="#000" stroke-width="0.4">control</text></g>
<g transform="translate(404.77,528.54) scale(0.9807,0.9890)"><text x="0" y="0" font-family="Liberation Sans" font-weight="normal" font-style="normal" font-size="28" fill="#000" stroke="#000" stroke-width="0.4">2/1</text></g>
<g transform="translate(511.20,528.54) scale(0.9870,0.9890)"><text x="0" y="0" font-family="Liberation Sans" font-weight="normal" font-style="normal" font-size="28" fill="#000" stroke="#000" stroke-width="0.4">4/1</text></g>
<g transform="translate(340.08,571.65) scale(1.0161,1.0256)"><text x="0" y="0" font-family="Liberation Sans" font-weight="normal" font-style="normal" font-size="28" fill="#000" stroke="#000" stroke-width="0.4">TPP-IOA/cyt c</text></g>
<g transform="translate(767.02,87.86) scale(1.0746,1.0123)"><text x="0" y="0" font-family="Liberation Sans" font-weight="normal" font-style="normal" font-size="25" fill="#000" stroke="#000" stroke-width="0.4">0.03</text></g>
<g transform="translate(767.24,222.55) scale(1.0147,1.0751)"><text x="0" y="0" font-family="Liberation Sans" font-weight="normal" font-style="normal" font-size="25" fill="#000" stroke="#000" stroke-width="0.4">0.01</text></g>
<g transform="translate(757.94,355.80) scale(1.0636,0.9944)"><text x="0" y="0" font-family="Liberation Sans" font-weight="normal" font-style="normal" font-size="25" fill="#000" stroke="#000" stroke-width="0.4">-0.01</text></g>
<g transform="translate(757.90,489.80) scale(1.0964,0.9389)"><text x="0" y="0" font-family="Liberation Sans" font-weight="normal" font-style="normal" font-size="25" fill="#000" stroke="#000" stroke-width="0.4">-0.03</text></g>
<g transform="translate(821.50,320.30) scale(1.0878,1.0222)"><text x="0" y="0" font-family="Liberation Sans" font-weight="normal" font-style="normal" font-size="25" fill="#000" stroke="#000" stroke-width="0.4">450</text></g>
<g transform="translate(1075.11,321.40) scale(1.1041,1.0000)"><text x="0" y="0" font-family="Liberation Sans" font-weight="normal" font-style="normal" font-size="25" fill="#000" stroke="#000" stroke-width="0.4">550</text></g>
<g transform="translate(1328.88,321.10) scale(1.1175,1.0000)"><text x="0" y="0" font-family="Liberation Sans" font-weight="normal" font-style="normal" font-size="25" fill="#000" stroke="#000" stroke-width="0.4">650</text></g>
<g transform="translate(1009.42,459.00) scale(1.0468,1.0000)"><text x="0" y="0" font-family="Liberation Sans" font-weight="normal" font-style="normal" font-size="25" fill="#000" stroke="#000" stroke-width="0.4">Wavelength,&#160; nm</text></g>
<g transform="translate(746.56,362.42) scale(1.1648,1.0416)"><text x="0" y="0" transform="rotate(-90)" font-family="Liberation Sans" font-weight="normal" font-style="normal" font-size="25" fill="#000" stroke="#000" stroke-width="0.4">Δ Absorbance</text></g>
<g transform="translate(1049.86,104.66) scale(1.1401,0.9944)"><text x="0" y="0" font-family="Liberation Sans" font-weight="normal" font-style="normal" font-size="24" fill="#000" stroke="#000" stroke-width="0.05">cyt c/MLCL(L)<tspan font-size="17" dy="6">3</tspan></text></g>
<g transform="translate(1049.88,136.57) scale(1.1212,1.0043)"><text x="0" y="0" font-family="Liberation Sans" font-weight="normal" font-style="normal" font-size="24" fill="#c00000" stroke="#c00000" stroke-width="0.05">cyt c/MLCL(L)<tspan font-size="17" dy="6">3</tspan><tspan dy="-6">/TPP-IOA</tspan></text></g>
<g transform="translate(-4.09,757.82) scale(1.0495,1.0239)"><text x="0" y="0" font-family="Liberation Sans" font-weight="bold" font-style="normal" font-size="50" fill="#000">b</text></g>
<g transform="translate(180.92,791.89) scale(1.0841,1.0389)"><text x="0" y="0" font-family="Liberation Sans" font-weight="normal" font-style="normal" font-size="26" fill="#000" stroke="#000" stroke-width="0.4">0.006</text></g>
<g transform="translate(180.93,925.96) scale(1.0672,1.0389)"><text x="0" y="0" font-family="Liberation Sans" font-weight="normal" font-style="normal" font-size="26" fill="#000" stroke="#000" stroke-width="0.4">0.004</text></g>
<g transform="translate(180.92,1060.03) scale(1.0841,1.0389)"><text x="0" y="0" font-family="Liberation Sans" font-weight="normal" font-style="normal" font-size="26" fill="#000" stroke="#000" stroke-width="0.4">0.002</text></g>
<g transform="translate(181.64,1194.42) scale(1.0710,1.0193)"><text x="0" y="0" font-family="Liberation Sans" font-weight="normal" font-style="normal" font-size="26" fill="#000" stroke="#000" stroke-width="0.4">0.000</text></g>
<g transform="translate(138.22,1081.10) scale(1.0193,0.9981)"><text x="0" y="0" transform="rotate(-90)" font-family="Liberation Sans" font-weight="normal" font-style="normal" font-size="28" fill="#000" stroke="#000" stroke-width="0.4">Δ Absorbance at</text></g>
<g transform="translate(169.54,1090.96) scale(0.9312,1.0019)"><text x="0" y="0" transform="rotate(-90)" font-family="Liberation Sans" font-weight="normal" font-style="normal" font-size="28" fill="#000" stroke="#000" stroke-width="0.4">(695 nm -670 nm)</text></g>
<g transform="translate(304.89,1223.10) scale(1.0125,1.0160)"><text x="0" y="0" font-family="Liberation Sans" font-weight="normal" font-style="normal" font-size="28" fill="#000" stroke="#000" stroke-width="0.4">cyt c</text></g>
<g transform="translate(420.61,1224.01) scale(0.9071,0.9429)"><text x="0" y="0" font-family="Liberation Sans" font-weight="normal" font-style="normal" font-size="28" fill="#000" stroke="#000" stroke-width="0.4">2/1</text></g>
<g transform="translate(518.82,1224.27) scale(0.9413,0.9488)"><text x="0" y="0" font-family="Liberation Sans" font-weight="normal" font-style="normal" font-size="28" fill="#000" stroke="#000" stroke-width="0.4">4/1</text></g>
<g transform="translate(339.32,1259.83) scale(0.9941,0.9755)"><text x="0" y="0" font-family="Liberation Sans" font-weight="normal" font-style="normal" font-size="28" fill="#000" stroke="#000" stroke-width="0.4">TPP-IOA/cyt c</text></g>
<g transform="translate(744.26,815.10) scale(1.0397,1.0889)"><text x="0" y="0" font-family="Liberation Sans" font-weight="normal" font-style="normal" font-size="26" fill="#000" stroke="#000" stroke-width="0.4">0.008</text></g>
<g transform="translate(744.87,971.86) scale(1.0235,1.0678)"><text x="0" y="0" font-family="Liberation Sans" font-weight="normal" font-style="normal" font-size="26" fill="#000" stroke="#000" stroke-width="0.4">0.004</text></g>
<g transform="translate(798.08,1128.90) scale(1.0282,1.0115)"><text x="0" y="0" font-family="Liberation Sans" font-weight="normal" font-style="normal" font-size="26" fill="#000" stroke="#000" stroke-width="0.4">0</text></g>
<g transform="translate(812.26,1162.60) scale(1.0357,1.0222)"><text x="0" y="0" font-family="Liberation Sans" font-weight="normal" font-style="normal" font-size="26" fill="#000" stroke="#000" stroke-width="0.4">670</text></g>
<g transform="translate(993.36,1162.60) scale(1.0357,1.0222)"><text x="0" y="0" font-family="Liberation Sans" font-weight="normal" font-style="normal" font-size="26" fill="#000" stroke="#000" stroke-width="0.4">690</text></g>
<g transform="translate(1174.99,1162.60) scale(1.0119,1.0222)"><text x="0" y="0" font-family="Liberation Sans" font-weight="normal" font-style="normal" font-size="26" fill="#000" stroke="#000" stroke-width="0.4">710</text></g>
<g transform="translate(1356.30,1162.83) scale(1.0411,1.0162)"><text x="0" y="0" font-family="Liberation Sans" font-weight="normal" font-style="normal" font-size="26" fill="#000" stroke="#000" stroke-width="0.4">730</text></g>
<g transform="translate(1018.30,1205.05) scale(0.9871,1.1500)"><text x="0" y="0" font-family="Liberation Sans" font-weight="normal" font-style="normal" font-size="26" fill="#000" stroke="#000" stroke-width="0.4">Wavelength,nm</text></g>
<g transform="translate(710.94,1006.36) scale(1.0780,1.0703)"><text x="0" y="0" transform="rotate(-90)" font-family="Liberation Sans" font-weight="normal" font-style="normal" font-size="26" fill="#000" stroke="#000" stroke-width="0.4">Δ Absorbance</text></g>
<g transform="translate(1003.99,837.77) scale(1.1108,1.0043)"><text x="0" y="0" font-family="Liberation Sans" font-weight="normal" font-style="normal" font-size="24" fill="#000" stroke="#000" stroke-width="0.05">cyt c/MLCL(L)<tspan font-size="17" dy="6">3</tspan></text></g>
<g transform="translate(1004.00,868.64) scale(1.0958,1.0261)"><text x="0" y="0" font-family="Liberation Sans" font-weight="normal" font-style="normal" font-size="24" fill="#c00000" stroke="#c00000" stroke-width="0.05">cyt c/MLCL(L)<tspan font-size="17" dy="6">3</tspan><tspan dy="-6">/TPP-IOA</tspan></text></g>
<g transform="translate(15.29,1461.68) scale(1.0152,1.0353)"><text x="0" y="0" font-family="Liberation Sans" font-weight="bold" font-style="normal" font-size="50" fill="#000">c</text></g>
<g transform="translate(233.86,1625.40) scale(1.0200,1.0516)"><text x="0" y="0" font-family="Liberation Sans" font-weight="normal" font-style="normal" font-size="44" fill="#000" stroke="#000" stroke-width="0.4">200</text></g>
<g transform="translate(236.06,1731.41) scale(0.9917,1.0606)"><text x="0" y="0" font-family="Liberation Sans" font-weight="normal" font-style="normal" font-size="44" fill="#000" stroke="#000" stroke-width="0.4">150</text></g>
<g transform="translate(236.01,1837.45) scale(0.9890,1.0488)"><text x="0" y="0" font-family="Liberation Sans" font-weight="normal" font-style="normal" font-size="44" fill="#000" stroke="#000" stroke-width="0.4">100</text></g>
<g transform="translate(259.04,1943.28) scale(1.0105,1.0634)"><text x="0" y="0" font-family="Liberation Sans" font-weight="normal" font-style="normal" font-size="44" fill="#000" stroke="#000" stroke-width="0.4">50</text></g>
<g transform="translate(284.93,2050.80) scale(0.9727,1.0516)"><text x="0" y="0" font-family="Liberation Sans" font-weight="normal" font-style="normal" font-size="44" fill="#000" stroke="#000" stroke-width="0.4">0</text></g>
<g transform="translate(135.84,2069.50) scale(1.0699,1.0799)"><text x="0" y="0" transform="rotate(-90)" font-family="Liberation Sans" font-weight="normal" font-style="normal" font-size="46" fill="#000" stroke="#000" stroke-width="0.4">PE(18:0/9-OOH-18:2),</text></g>
<g transform="translate(194.01,2044.08) scale(1.0289,1.0260)"><text x="0" y="0" transform="rotate(-90)" font-family="Liberation Sans" font-weight="normal" font-style="normal" font-size="48" fill="#000" stroke="#000" stroke-width="0.4">pmol/nmol precursor</text></g>
<g transform="translate(377.90,2079.30) scale(0.9912,1.0582)"><text x="0" y="0" font-family="Liberation Sans" font-weight="normal" font-style="normal" font-size="44" fill="#000" stroke="#000" stroke-width="0.4">0</text></g>
<g transform="translate(446.32,2078.90) scale(1.0581,1.0359)"><text x="0" y="0" font-family="Liberation Sans" font-weight="normal" font-style="normal" font-size="44" fill="#000" stroke="#000" stroke-width="0.4">2</text></g>
<g transform="translate(505.89,2078.30) scale(0.9218,1.0260)"><text x="0" y="0" font-family="Liberation Sans" font-weight="normal" font-style="normal" font-size="44" fill="#000" stroke="#000" stroke-width="0.4">10</text></g>
<g transform="translate(569.59,2078.90) scale(1.0144,1.0359)"><text x="0" y="0" font-family="Liberation Sans" font-weight="normal" font-style="normal" font-size="44" fill="#000" stroke="#000" stroke-width="0.4">20</text></g>
<g transform="translate(347.00,2133.87) scale(1.0220,1.0305)"><text x="0" y="0" font-family="Liberation Sans" font-weight="normal" font-style="normal" font-size="48" fill="#000" stroke="#000" stroke-width="0.4">TPP-IOA, <tspan font-family="Liberation Serif">μ</tspan>M</text></g>
<g transform="translate(854.74,1618.30) scale(0.9533,1.0419)"><text x="0" y="0" font-family="Liberation Sans" font-weight="normal" font-style="normal" font-size="44" fill="#000" stroke="#000" stroke-width="0.4">10</text></g>
<g transform="translate(877.06,1703.20) scale(1.0190,1.0419)"><text x="0" y="0" font-family="Liberation Sans" font-weight="normal" font-style="normal" font-size="44" fill="#000" stroke="#000" stroke-width="0.4">8</text></g>
<g transform="translate(877.06,1789.00) scale(1.0190,1.0419)"><text x="0" y="0" font-family="Liberation Sans" font-weight="normal" font-style="normal" font-size="44" fill="#000" stroke="#000" stroke-width="0.4">6</text></g>
<g transform="translate(878.17,1873.90) scale(0.9304,1.0419)"><text x="0" y="0" font-family="Liberation Sans" font-weight="normal" font-style="normal" font-size="44" fill="#000" stroke="#000" stroke-width="0.4">4</text></g>
<g transform="translate(877.06,1958.80) scale(1.0190,1.0419)"><text x="0" y="0" font-family="Liberation Sans" font-weight="normal" font-style="normal" font-size="44" fill="#000" stroke="#000" stroke-width="0.4">2</text></g>
<g transform="translate(877.29,2043.14) scale(0.9838,1.0478)"><text x="0" y="0" font-family="Liberation Sans" font-weight="normal" font-style="normal" font-size="44" fill="#000" stroke="#000" stroke-width="0.4">0</text></g>
<g transform="translate(756.17,1983.12) scale(1.0133,1.0288)"><text x="0" y="0" transform="rotate(-90)" font-family="Liberation Sans" font-weight="normal" font-style="normal" font-size="48" fill="#000" stroke="#000" stroke-width="0.4">PE(18:0/ONA),</text></g>
<g transform="translate(813.91,2037.27) scale(1.0251,1.0280)"><text x="0" y="0" transform="rotate(-90)" font-family="Liberation Sans" font-weight="normal" font-style="normal" font-size="48" fill="#000" stroke="#000" stroke-width="0.4">pmol/nmol precursor</text></g>
<g transform="translate(977.97,2072.90) scale(1.0273,1.0355)"><text x="0" y="0" font-family="Liberation Sans" font-weight="normal" font-style="normal" font-size="44" fill="#000" stroke="#000" stroke-width="0.4">0</text></g>
<g transform="translate(1040.03,2071.78) scale(1.0540,1.0052)"><text x="0" y="0" font-family="Liberation Sans" font-weight="normal" font-style="normal" font-size="44" fill="#000" stroke="#000" stroke-width="0.4">2</text></g>
<g transform="translate(1099.03,2072.90) scale(0.9889,1.0355)"><text x="0" y="0" font-family="Liberation Sans" font-weight="normal" font-style="normal" font-size="44" fill="#000" stroke="#000" stroke-width="0.4">10</text></g>
<g transform="translate(1168.61,2072.78) scale(1.0680,1.0374)"><text x="0" y="0" font-family="Liberation Sans" font-weight="normal" font-style="normal" font-size="44" fill="#000" stroke="#000" stroke-width="0.4">20</text></g>
<g transform="translate(940.21,2127.86) scale(1.0272,1.0385)"><text x="0" y="0" font-family="Liberation Sans" font-weight="normal" font-style="normal" font-size="48" fill="#000" stroke="#000" stroke-width="0.4">TPP-IOA, <tspan font-family="Liberation Serif">μ</tspan>M</text></g>
<g transform="translate(33.24,2234.80) scale(1.0280,1.0444)"><text x="0" y="0" font-family="Liberation Sans" font-weight="bold" font-style="normal" font-size="50" fill="#000">d</text></g>
<g transform="translate(223.92,2378.30) scale(1.0261,1.1107)"><text x="0" y="0" font-family="Liberation Sans" font-weight="bold" font-style="normal" font-size="40" fill="#000">N</text></g>
<g transform="translate(1120.56,2380.14) scale(1.0231,1.0529)"><text x="0" y="0" font-family="Liberation Sans" font-weight="bold" font-style="normal" font-size="40" fill="#000">C</text></g>
<g transform="translate(874.61,2348.60) scale(1.1882,1.1941)"><text x="0" y="0" font-family="Liberation Serif" font-weight="normal" font-style="normal" font-size="26" fill="#b01515" stroke="#b01515" stroke-width="0.4">Ω</text></g>
<g transform="translate(908.40,2349.68) scale(1.1958,1.1250)"><text x="0" y="0" font-family="Liberation Sans" font-weight="normal" font-style="italic" font-size="26" fill="#b01515" stroke="#b01515" stroke-width="0.4">loop</text></g>
<g transform="translate(858.81,2400.30) scale(1.1886,1.1222)"><text x="0" y="0" font-family="Liberation Sans" font-weight="normal" font-style="italic" font-size="26" fill="#b01515" stroke="#b01515" stroke-width="0.4">I75</text></g>
<g transform="translate(944.41,2400.30) scale(1.0943,1.1222)"><text x="0" y="0" font-family="Liberation Sans" font-weight="normal" font-style="italic" font-size="26" fill="#b01515" stroke="#b01515" stroke-width="0.4">I85</text></g>
<g transform="translate(274.48,2437.01) scale(1.0901,1.1427)"><text x="0" y="0" font-family="Liberation Sans" font-weight="normal" font-style="italic" font-size="28" fill="#000" stroke="#000" stroke-width="0.4">Thr residues</text></g>
<g transform="translate(230.38,2444.56) scale(0.9323,1.1746)"><text x="0" y="0" font-family="Liberation Sans" font-weight="normal" font-style="normal" font-size="23" fill="#222" stroke="#222" stroke-width="0.1">1</text></g>
<g transform="translate(204.11,2553.52) scale(1.1805,1.2458)"><text x="0" y="0" font-family="Liberation Sans" font-weight="normal" font-style="normal" font-size="23" fill="#222" stroke="#222" stroke-width="0.1">0.5</text></g>
<g transform="translate(229.95,2662.28) scale(1.0240,1.3012)"><text x="0" y="0" font-family="Liberation Sans" font-weight="normal" font-style="normal" font-size="23" fill="#222" stroke="#222" stroke-width="0.1">0</text></g>
<g transform="translate(395.25,2682.00) scale(1.1542,1.0882)"><text x="0" y="0" font-family="Liberation Sans" font-weight="normal" font-style="normal" font-size="23" fill="#222" stroke="#222" stroke-width="0.1">20</text></g>
<g transform="translate(564.80,2682.00) scale(1.1680,1.0882)"><text x="0" y="0" font-family="Liberation Sans" font-weight="normal" font-style="normal" font-size="23" fill="#222" stroke="#222" stroke-width="0.1">40</text></g>
<g transform="translate(734.59,2681.90) scale(1.1858,1.1064)"><text x="0" y="0" font-family="Liberation Sans" font-weight="normal" font-style="normal" font-size="23" fill="#222" stroke="#222" stroke-width="0.1">60</text></g>
<g transform="translate(904.35,2682.00) scale(1.1458,1.0882)"><text x="0" y="0" font-family="Liberation Sans" font-weight="normal" font-style="normal" font-size="23" fill="#222" stroke="#222" stroke-width="0.1">80</text></g>
<g transform="translate(1065.17,2682.00) scale(1.1639,1.0882)"><text x="0" y="0" font-family="Liberation Sans" font-weight="normal" font-style="normal" font-size="23" fill="#222" stroke="#222" stroke-width="0.1">100</text></g>
<g transform="translate(569.63,2712.41) scale(1.1235,1.0115)"><text x="0" y="0" font-family="Liberation Sans" font-weight="normal" font-style="normal" font-size="30" fill="#222" stroke="#222" stroke-width="0.1">residue number</text></g>
<g transform="translate(193.55,2670.04) scale(1.0480,1.0996)"><text x="0" y="0" transform="rotate(-90)" font-family="Liberation Sans" font-weight="normal" font-style="normal" font-size="30" fill="#222" stroke="#222" stroke-width="0.1">normalized Intensity</text></g>
<g transform="translate(1184.64,2414.81) scale(1.0707,1.0085)"><text x="0" y="0" font-family="Liberation Sans" font-weight="normal" font-style="normal" font-size="28" fill="#222" stroke="#222" stroke-width="0.05">MLCL/PC (1:1)</text></g>
<g transform="translate(1184.80,2442.54) scale(1.0717,1.0062)"><text x="0" y="0" font-family="Liberation Sans" font-weight="normal" font-style="normal" font-size="28" fill="#222" stroke="#222" stroke-width="0.05">MLCL/PC (1:1)</text></g>
<g transform="translate(1184.80,2474.54) scale(1.0717,1.0062)"><text x="0" y="0" font-family="Liberation Sans" font-weight="normal" font-style="normal" font-size="28" fill="#222" stroke="#222" stroke-width="0.05">MLCL/PC (1:2)</text></g>
<g transform="translate(1184.64,2506.01) scale(1.0707,1.0085)"><text x="0" y="0" font-family="Liberation Sans" font-weight="normal" font-style="normal" font-size="28" fill="#222" stroke="#222" stroke-width="0.05">MLCL/PC (1:2)</text></g>
<g transform="translate(1185.82,2538.01) scale(1.0762,1.0085)"><text x="0" y="0" font-family="Liberation Sans" font-weight="normal" font-style="normal" font-size="28" fill="#222" stroke="#222" stroke-width="0.05">+IOA (1:2)</text></g>
<g transform="translate(1185.92,2565.34) scale(1.0762,1.0062)"><text x="0" y="0" font-family="Liberation Sans" font-weight="normal" font-style="normal" font-size="28" fill="#222" stroke="#222" stroke-width="0.05">+IOA (1:2)</text></g>
</svg></body></html>
